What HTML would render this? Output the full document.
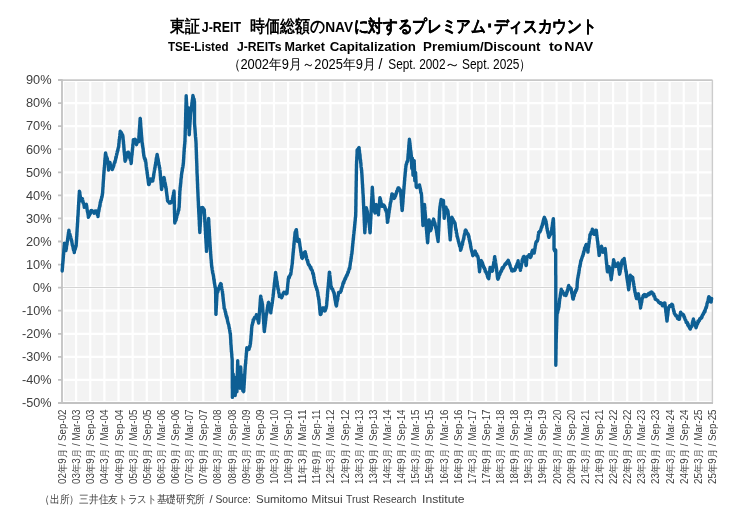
<!DOCTYPE html>
<html><head><meta charset="utf-8"><style>
html,body{margin:0;padding:0;background:#fff;}
body{width:748px;height:529px;overflow:hidden;position:relative;}
svg{position:absolute;left:0;top:0;will-change:transform;}
text{font-family:"Liberation Sans",sans-serif;}
</style></head><body>
<svg width="748" height="529" viewBox="0 0 748 529">

<rect x="62.0" y="80.0" width="650.0" height="323.0" fill="#f3f3f3"/>
<path d="M62.00 80.0V403.0M76.13 80.0V403.0M90.26 80.0V403.0M104.39 80.0V403.0M118.52 80.0V403.0M132.65 80.0V403.0M146.78 80.0V403.0M160.91 80.0V403.0M175.04 80.0V403.0M189.17 80.0V403.0M203.30 80.0V403.0M217.43 80.0V403.0M231.57 80.0V403.0M245.70 80.0V403.0M259.83 80.0V403.0M273.96 80.0V403.0M288.09 80.0V403.0M302.22 80.0V403.0M316.35 80.0V403.0M330.48 80.0V403.0M344.61 80.0V403.0M358.74 80.0V403.0M372.87 80.0V403.0M387.00 80.0V403.0M401.13 80.0V403.0M415.26 80.0V403.0M429.39 80.0V403.0M443.52 80.0V403.0M457.65 80.0V403.0M471.78 80.0V403.0M485.91 80.0V403.0M500.04 80.0V403.0M514.17 80.0V403.0M528.30 80.0V403.0M542.43 80.0V403.0M556.57 80.0V403.0M570.70 80.0V403.0M584.83 80.0V403.0M598.96 80.0V403.0M613.09 80.0V403.0M627.22 80.0V403.0M641.35 80.0V403.0M655.48 80.0V403.0M669.61 80.0V403.0M683.74 80.0V403.0M697.87 80.0V403.0M63.00 80.0V403.0M62.0 81.00H712.0M62.0 402.00H712.0" stroke="#ffffff" stroke-width="2.2" fill="none"/>
<path d="M62.0 80.00H712.0M62.0 103.07H712.0M62.0 126.14H712.0M62.0 149.21H712.0M62.0 172.29H712.0M62.0 195.36H712.0M62.0 218.43H712.0M62.0 241.50H712.0M62.0 264.57H712.0M62.0 287.64H712.0M62.0 310.71H712.0M62.0 333.79H712.0M62.0 356.86H712.0M62.0 379.93H712.0M62.0 403.00H712.0" stroke="#ffffff" stroke-width="2.2" fill="none"/>
<path d="M62.0 287.50H712.0" stroke="#d4d4d4" stroke-width="1.1" fill="none"/>
<path d="M62.0 80.1H712.5" stroke="#c8c8c8" stroke-width="1.7" fill="none"/>
<path d="M712.4 80.0V403.0" stroke="#cccccc" stroke-width="1.4" fill="none"/>
<path d="M62.0 79.2V403.0M58.0 403.0H713.0M58.0 80.00H62.0M58.0 103.07H62.0M58.0 126.14H62.0M58.0 149.21H62.0M58.0 172.29H62.0M58.0 195.36H62.0M58.0 218.43H62.0M58.0 241.50H62.0M58.0 264.57H62.0M58.0 287.64H62.0M58.0 310.71H62.0M58.0 333.79H62.0M58.0 356.86H62.0M58.0 379.93H62.0M58.0 403.00H62.0" stroke="#c2c2c2" stroke-width="1.8" fill="none"/>
<text x="51.6" y="84.3" font-size="12" fill="#404040" text-anchor="end" textLength="25.6" lengthAdjust="spacingAndGlyphs">90%</text>
<text x="51.6" y="107.4" font-size="12" fill="#404040" text-anchor="end" textLength="25.6" lengthAdjust="spacingAndGlyphs">80%</text>
<text x="51.6" y="130.4" font-size="12" fill="#404040" text-anchor="end" textLength="25.6" lengthAdjust="spacingAndGlyphs">70%</text>
<text x="51.6" y="153.5" font-size="12" fill="#404040" text-anchor="end" textLength="25.6" lengthAdjust="spacingAndGlyphs">60%</text>
<text x="51.6" y="176.6" font-size="12" fill="#404040" text-anchor="end" textLength="25.6" lengthAdjust="spacingAndGlyphs">50%</text>
<text x="51.6" y="199.7" font-size="12" fill="#404040" text-anchor="end" textLength="25.6" lengthAdjust="spacingAndGlyphs">40%</text>
<text x="51.6" y="222.7" font-size="12" fill="#404040" text-anchor="end" textLength="25.6" lengthAdjust="spacingAndGlyphs">30%</text>
<text x="51.6" y="245.8" font-size="12" fill="#404040" text-anchor="end" textLength="25.6" lengthAdjust="spacingAndGlyphs">20%</text>
<text x="51.6" y="268.9" font-size="12" fill="#404040" text-anchor="end" textLength="25.6" lengthAdjust="spacingAndGlyphs">10%</text>
<text x="51.6" y="291.9" font-size="12" fill="#404040" text-anchor="end" textLength="18.9" lengthAdjust="spacingAndGlyphs">0%</text>
<text x="51.6" y="315.0" font-size="12" fill="#404040" text-anchor="end" textLength="29.6" lengthAdjust="spacingAndGlyphs">-10%</text>
<text x="51.6" y="338.1" font-size="12" fill="#404040" text-anchor="end" textLength="29.6" lengthAdjust="spacingAndGlyphs">-20%</text>
<text x="51.6" y="361.2" font-size="12" fill="#404040" text-anchor="end" textLength="29.6" lengthAdjust="spacingAndGlyphs">-30%</text>
<text x="51.6" y="384.2" font-size="12" fill="#404040" text-anchor="end" textLength="29.6" lengthAdjust="spacingAndGlyphs">-40%</text>
<text x="51.6" y="407.3" font-size="12" fill="#404040" text-anchor="end" textLength="29.6" lengthAdjust="spacingAndGlyphs">-50%</text>
<text transform="translate(66.00,409.5) rotate(-90)" font-size="10.4" fill="#404040" text-anchor="end" textLength="74.5" lengthAdjust="spacingAndGlyphs">02年9月 / Sep-02</text>
<text transform="translate(80.13,409.5) rotate(-90)" font-size="10.4" fill="#404040" text-anchor="end" textLength="74.5" lengthAdjust="spacingAndGlyphs">03年3月 / Mar-03</text>
<text transform="translate(94.26,409.5) rotate(-90)" font-size="10.4" fill="#404040" text-anchor="end" textLength="74.5" lengthAdjust="spacingAndGlyphs">03年9月 / Sep-03</text>
<text transform="translate(108.39,409.5) rotate(-90)" font-size="10.4" fill="#404040" text-anchor="end" textLength="74.5" lengthAdjust="spacingAndGlyphs">04年3月 / Mar-04</text>
<text transform="translate(122.52,409.5) rotate(-90)" font-size="10.4" fill="#404040" text-anchor="end" textLength="74.5" lengthAdjust="spacingAndGlyphs">04年9月 / Sep-04</text>
<text transform="translate(136.65,409.5) rotate(-90)" font-size="10.4" fill="#404040" text-anchor="end" textLength="74.5" lengthAdjust="spacingAndGlyphs">05年3月 / Mar-05</text>
<text transform="translate(150.78,409.5) rotate(-90)" font-size="10.4" fill="#404040" text-anchor="end" textLength="74.5" lengthAdjust="spacingAndGlyphs">05年9月 / Sep-05</text>
<text transform="translate(164.91,409.5) rotate(-90)" font-size="10.4" fill="#404040" text-anchor="end" textLength="74.5" lengthAdjust="spacingAndGlyphs">06年3月 / Mar-06</text>
<text transform="translate(179.04,409.5) rotate(-90)" font-size="10.4" fill="#404040" text-anchor="end" textLength="74.5" lengthAdjust="spacingAndGlyphs">06年9月 / Sep-06</text>
<text transform="translate(193.17,409.5) rotate(-90)" font-size="10.4" fill="#404040" text-anchor="end" textLength="74.5" lengthAdjust="spacingAndGlyphs">07年3月 / Mar-07</text>
<text transform="translate(207.30,409.5) rotate(-90)" font-size="10.4" fill="#404040" text-anchor="end" textLength="74.5" lengthAdjust="spacingAndGlyphs">07年9月 / Sep-07</text>
<text transform="translate(221.43,409.5) rotate(-90)" font-size="10.4" fill="#404040" text-anchor="end" textLength="74.5" lengthAdjust="spacingAndGlyphs">08年3月 / Mar-08</text>
<text transform="translate(235.57,409.5) rotate(-90)" font-size="10.4" fill="#404040" text-anchor="end" textLength="74.5" lengthAdjust="spacingAndGlyphs">08年9月 / Sep-08</text>
<text transform="translate(249.70,409.5) rotate(-90)" font-size="10.4" fill="#404040" text-anchor="end" textLength="74.5" lengthAdjust="spacingAndGlyphs">09年3月 / Mar-09</text>
<text transform="translate(263.83,409.5) rotate(-90)" font-size="10.4" fill="#404040" text-anchor="end" textLength="74.5" lengthAdjust="spacingAndGlyphs">09年9月 / Sep-09</text>
<text transform="translate(277.96,409.5) rotate(-90)" font-size="10.4" fill="#404040" text-anchor="end" textLength="74.5" lengthAdjust="spacingAndGlyphs">10年3月 / Mar-10</text>
<text transform="translate(292.09,409.5) rotate(-90)" font-size="10.4" fill="#404040" text-anchor="end" textLength="74.5" lengthAdjust="spacingAndGlyphs">10年9月 / Sep-10</text>
<text transform="translate(306.22,409.5) rotate(-90)" font-size="10.4" fill="#404040" text-anchor="end" textLength="74.5" lengthAdjust="spacingAndGlyphs">11年3月 / Mar-11</text>
<text transform="translate(320.35,409.5) rotate(-90)" font-size="10.4" fill="#404040" text-anchor="end" textLength="74.5" lengthAdjust="spacingAndGlyphs">11年9月 / Sep-11</text>
<text transform="translate(334.48,409.5) rotate(-90)" font-size="10.4" fill="#404040" text-anchor="end" textLength="74.5" lengthAdjust="spacingAndGlyphs">12年3月 / Mar-12</text>
<text transform="translate(348.61,409.5) rotate(-90)" font-size="10.4" fill="#404040" text-anchor="end" textLength="74.5" lengthAdjust="spacingAndGlyphs">12年9月 / Sep-12</text>
<text transform="translate(362.74,409.5) rotate(-90)" font-size="10.4" fill="#404040" text-anchor="end" textLength="74.5" lengthAdjust="spacingAndGlyphs">13年3月 / Mar-13</text>
<text transform="translate(376.87,409.5) rotate(-90)" font-size="10.4" fill="#404040" text-anchor="end" textLength="74.5" lengthAdjust="spacingAndGlyphs">13年9月 / Sep-13</text>
<text transform="translate(391.00,409.5) rotate(-90)" font-size="10.4" fill="#404040" text-anchor="end" textLength="74.5" lengthAdjust="spacingAndGlyphs">14年3月 / Mar-14</text>
<text transform="translate(405.13,409.5) rotate(-90)" font-size="10.4" fill="#404040" text-anchor="end" textLength="74.5" lengthAdjust="spacingAndGlyphs">14年9月 / Sep-14</text>
<text transform="translate(419.26,409.5) rotate(-90)" font-size="10.4" fill="#404040" text-anchor="end" textLength="74.5" lengthAdjust="spacingAndGlyphs">15年3月 / Mar-15</text>
<text transform="translate(433.39,409.5) rotate(-90)" font-size="10.4" fill="#404040" text-anchor="end" textLength="74.5" lengthAdjust="spacingAndGlyphs">15年9月 / Sep-15</text>
<text transform="translate(447.52,409.5) rotate(-90)" font-size="10.4" fill="#404040" text-anchor="end" textLength="74.5" lengthAdjust="spacingAndGlyphs">16年3月 / Mar-16</text>
<text transform="translate(461.65,409.5) rotate(-90)" font-size="10.4" fill="#404040" text-anchor="end" textLength="74.5" lengthAdjust="spacingAndGlyphs">16年9月 / Sep-16</text>
<text transform="translate(475.78,409.5) rotate(-90)" font-size="10.4" fill="#404040" text-anchor="end" textLength="74.5" lengthAdjust="spacingAndGlyphs">17年3月 / Mar-17</text>
<text transform="translate(489.91,409.5) rotate(-90)" font-size="10.4" fill="#404040" text-anchor="end" textLength="74.5" lengthAdjust="spacingAndGlyphs">17年9月 / Sep-17</text>
<text transform="translate(504.04,409.5) rotate(-90)" font-size="10.4" fill="#404040" text-anchor="end" textLength="74.5" lengthAdjust="spacingAndGlyphs">18年3月 / Mar-18</text>
<text transform="translate(518.17,409.5) rotate(-90)" font-size="10.4" fill="#404040" text-anchor="end" textLength="74.5" lengthAdjust="spacingAndGlyphs">18年9月 / Sep-18</text>
<text transform="translate(532.30,409.5) rotate(-90)" font-size="10.4" fill="#404040" text-anchor="end" textLength="74.5" lengthAdjust="spacingAndGlyphs">19年3月 / Mar-19</text>
<text transform="translate(546.43,409.5) rotate(-90)" font-size="10.4" fill="#404040" text-anchor="end" textLength="74.5" lengthAdjust="spacingAndGlyphs">19年9月 / Sep-19</text>
<text transform="translate(560.57,409.5) rotate(-90)" font-size="10.4" fill="#404040" text-anchor="end" textLength="74.5" lengthAdjust="spacingAndGlyphs">20年3月 / Mar-20</text>
<text transform="translate(574.70,409.5) rotate(-90)" font-size="10.4" fill="#404040" text-anchor="end" textLength="74.5" lengthAdjust="spacingAndGlyphs">20年9月 / Sep-20</text>
<text transform="translate(588.83,409.5) rotate(-90)" font-size="10.4" fill="#404040" text-anchor="end" textLength="74.5" lengthAdjust="spacingAndGlyphs">21年3月 / Mar-21</text>
<text transform="translate(602.96,409.5) rotate(-90)" font-size="10.4" fill="#404040" text-anchor="end" textLength="74.5" lengthAdjust="spacingAndGlyphs">21年9月 / Sep-21</text>
<text transform="translate(617.09,409.5) rotate(-90)" font-size="10.4" fill="#404040" text-anchor="end" textLength="74.5" lengthAdjust="spacingAndGlyphs">22年3月 / Mar-22</text>
<text transform="translate(631.22,409.5) rotate(-90)" font-size="10.4" fill="#404040" text-anchor="end" textLength="74.5" lengthAdjust="spacingAndGlyphs">22年9月 / Sep-22</text>
<text transform="translate(645.35,409.5) rotate(-90)" font-size="10.4" fill="#404040" text-anchor="end" textLength="74.5" lengthAdjust="spacingAndGlyphs">23年3月 / Mar-23</text>
<text transform="translate(659.48,409.5) rotate(-90)" font-size="10.4" fill="#404040" text-anchor="end" textLength="74.5" lengthAdjust="spacingAndGlyphs">23年9月 / Sep-23</text>
<text transform="translate(673.61,409.5) rotate(-90)" font-size="10.4" fill="#404040" text-anchor="end" textLength="74.5" lengthAdjust="spacingAndGlyphs">24年3月 / Mar-24</text>
<text transform="translate(687.74,409.5) rotate(-90)" font-size="10.4" fill="#404040" text-anchor="end" textLength="74.5" lengthAdjust="spacingAndGlyphs">24年9月 / Sep-24</text>
<text transform="translate(701.87,409.5) rotate(-90)" font-size="10.4" fill="#404040" text-anchor="end" textLength="74.5" lengthAdjust="spacingAndGlyphs">25年3月 / Mar-25</text>
<text transform="translate(716.00,409.5) rotate(-90)" font-size="10.4" fill="#404040" text-anchor="end" textLength="74.5" lengthAdjust="spacingAndGlyphs">25年9月 / Sep-25</text>
<path d="M62.2,271.1 62.2,270.1 62.3,269.2 62.3,269.6 62.4,267.8 62.4,268.1 62.5,267.2 62.5,266.0 62.6,266.3 62.6,264.7 62.7,264.9 62.7,263.6 62.8,263.0 62.8,263.1 62.9,263.3 62.9,261.2 63.0,260.8 63.0,261.0 63.1,261.1 63.1,259.7 63.2,258.8 63.2,259.3 63.3,256.8 63.3,257.9 63.4,256.1 63.4,255.2 63.5,254.6 63.5,254.3 63.6,254.7 63.6,252.9 63.7,253.1 63.7,252.6 63.8,251.4 63.8,251.2 63.9,249.6 63.9,249.0 64.0,248.7 64.0,249.0 64.1,247.9 64.1,247.1 64.2,247.0 64.2,246.1 64.3,245.2 64.3,245.6 64.4,244.8 64.4,243.3 64.5,244.6 64.7,245.1 64.8,246.4 64.9,246.7 65.1,246.5 65.2,248.5 65.4,247.4 65.5,248.6 65.6,249.9 65.8,249.3 65.9,250.6 66.0,249.1 66.1,249.7 66.2,249.3 66.3,248.4 66.4,248.4 66.4,246.7 66.5,246.8 66.6,246.0 66.7,245.4 66.8,244.6 66.9,244.7 67.0,244.4 67.1,242.8 67.2,242.6 67.3,240.8 67.4,241.5 67.4,240.8 67.5,240.9 67.6,240.0 67.7,238.3 67.8,237.9 67.9,237.9 68.0,236.0 68.1,236.3 68.2,235.1 68.3,234.4 68.4,233.7 68.4,234.5 68.5,232.6 68.6,232.3 68.7,232.0 68.8,232.3 68.9,230.2 69.1,231.5 69.2,232.3 69.4,233.6 69.5,234.0 69.7,234.7 69.9,234.2 70.0,235.0 70.2,235.5 70.3,237.2 70.5,237.9 70.7,236.9 70.8,237.6 71.0,238.3 71.1,238.9 71.3,240.0 71.5,240.8 71.6,240.7 71.8,240.8 71.9,242.3 72.0,242.8 72.2,243.8 72.3,245.2 72.5,245.3 72.6,245.5 72.8,246.3 73.0,247.1 73.1,246.4 73.2,248.7 73.4,249.1 73.5,249.9 73.7,250.4 73.8,250.2 74.0,250.8 74.1,250.8 74.3,252.5 74.5,250.7 74.7,250.2 74.9,249.9 75.1,249.2 75.3,248.9 75.5,247.8 75.7,247.1 75.9,246.8 76.1,246.1 76.1,246.0 76.2,244.7 76.2,245.8 76.2,244.7 76.3,243.2 76.3,242.8 76.4,242.3 76.4,241.8 76.4,240.7 76.5,241.5 76.5,241.2 76.5,239.5 76.6,239.0 76.6,237.6 76.6,237.0 76.7,236.9 76.7,236.1 76.8,236.6 76.8,234.7 76.8,233.8 76.9,235.0 76.9,233.6 76.9,232.2 77.0,232.4 77.0,230.7 77.0,231.1 77.1,231.4 77.1,230.6 77.1,229.7 77.2,228.2 77.2,227.8 77.3,226.8 77.3,227.4 77.3,226.3 77.4,226.2 77.4,224.7 77.4,223.8 77.5,224.4 77.5,224.2 77.5,223.3 77.6,222.6 77.6,222.0 77.7,221.3 77.7,219.7 77.7,219.6 77.8,218.7 77.8,217.5 77.8,216.9 77.9,216.8 77.9,216.1 77.9,216.4 78.0,216.3 78.0,214.7 78.0,215.1 78.1,214.6 78.1,213.9 78.2,212.1 78.2,211.2 78.2,210.7 78.3,210.0 78.3,209.4 78.3,209.6 78.4,209.6 78.4,208.9 78.4,207.6 78.5,207.3 78.5,207.0 78.5,205.0 78.6,205.5 78.6,205.4 78.7,204.6 78.7,203.9 78.7,202.8 78.8,201.6 78.8,202.2 78.8,200.7 78.9,201.0 78.9,200.7 78.9,199.0 79.0,198.4 79.0,198.9 79.0,197.8 79.1,196.1 79.1,195.5 79.2,194.9 79.2,195.8 79.2,195.0 79.3,193.1 79.3,193.9 79.3,193.6 79.4,192.3 79.4,191.1 79.5,192.1 79.6,191.9 79.8,192.3 79.9,194.8 80.0,194.8 80.1,195.1 80.2,196.6 80.3,196.2 80.5,197.7 80.6,198.2 80.7,197.6 80.8,198.3 80.9,198.9 81.1,199.5 81.2,200.8 81.3,200.7 81.6,200.5 81.8,199.4 82.1,200.4 82.4,198.7 82.5,199.5 82.7,200.4 82.8,201.6 83.0,201.2 83.1,202.8 83.3,202.6 83.4,203.2 83.5,203.8 83.7,203.4 83.8,204.8 84.0,204.9 84.1,205.1 84.3,207.3 84.4,206.6 84.8,206.6 85.2,206.6 85.5,205.6 85.9,204.6 86.3,204.3 86.4,205.0 86.5,206.1 86.6,205.3 86.7,206.8 86.8,206.8 86.9,207.5 87.0,209.1 87.1,209.2 87.2,209.9 87.3,210.9 87.5,211.8 87.6,211.4 87.7,212.4 87.8,212.8 87.9,213.4 88.0,214.4 88.1,214.5 88.2,215.3 88.3,215.8 88.4,217.3 88.7,216.3 89.0,216.1 89.2,215.7 89.5,213.8 89.8,213.8 90.1,214.0 90.4,213.3 90.6,211.4 90.9,210.8 91.2,210.9 91.8,210.5 92.4,211.1 93.0,211.1 93.6,212.6 94.2,213.2 94.8,213.0 95.3,211.1 95.9,211.8 96.5,211.3 96.7,210.9 96.9,212.9 97.1,213.7 97.2,212.7 97.4,214.8 97.6,214.2 97.8,215.0 98.0,216.6 98.1,215.7 98.2,213.7 98.3,213.6 98.4,213.2 98.5,212.3 98.7,211.4 98.8,211.0 98.9,211.2 99.0,209.2 99.1,209.7 99.2,208.8 99.3,207.4 99.4,207.4 99.5,207.4 99.7,206.5 99.8,205.0 99.9,206.3 100.0,205.3 100.1,205.0 100.2,202.7 100.4,202.4 100.5,201.4 100.7,202.2 100.8,200.6 101.0,199.7 101.1,199.7 101.3,200.1 101.4,199.3 101.6,197.6 101.7,196.7 101.9,197.7 102.0,196.4 102.2,196.0 102.3,194.2 102.5,193.5 102.5,194.2 102.6,193.0 102.6,191.7 102.7,192.8 102.7,191.6 102.7,191.3 102.8,189.3 102.8,190.2 102.9,188.0 102.9,189.0 102.9,187.6 103.0,186.7 103.0,186.6 103.1,186.7 103.1,184.8 103.1,183.9 103.2,184.1 103.2,182.9 103.3,182.0 103.3,181.5 103.4,180.7 103.4,180.4 103.4,180.0 103.5,179.4 103.5,179.6 103.6,178.1 103.6,177.9 103.6,176.7 103.7,176.4 103.7,175.1 103.8,175.0 103.8,173.9 103.8,174.7 103.9,173.7 103.9,172.4 104.0,172.4 104.0,172.7 104.0,170.4 104.1,171.2 104.2,169.8 104.2,169.4 104.2,169.4 104.3,167.9 104.3,167.6 104.4,167.3 104.5,167.3 104.5,165.4 104.5,165.8 104.6,164.9 104.7,164.2 104.7,163.1 104.8,162.4 104.8,161.2 104.8,160.7 104.9,160.0 105.0,160.8 105.0,159.2 105.0,158.4 105.1,157.6 105.2,158.5 105.2,158.0 105.2,157.0 105.3,155.6 105.3,154.9 105.4,154.4 105.5,154.1 105.5,152.9 105.7,154.1 105.9,154.3 106.0,156.3 106.2,156.9 106.4,156.6 106.6,156.6 106.7,158.6 106.9,157.9 107.1,158.6 107.3,158.4 107.4,159.8 107.6,160.6 107.8,161.2 107.9,161.2 107.9,162.5 108.0,162.1 108.0,163.3 108.1,163.6 108.2,164.8 108.2,164.8 108.3,165.4 108.4,166.6 108.4,167.1 108.5,168.4 108.5,168.9 108.6,170.0 108.7,169.2 108.9,168.7 109.0,168.4 109.2,166.8 109.3,166.1 109.4,166.8 109.6,164.5 109.7,165.1 109.9,164.3 110.0,162.5 110.3,164.7 110.5,165.4 110.8,165.5 111.0,166.3 111.3,167.0 111.5,166.3 111.8,167.6 112.0,168.2 112.3,169.5 112.5,168.8 112.8,168.3 113.0,167.2 113.3,167.2 113.5,166.2 113.8,165.7 114.0,164.1 114.3,163.2 114.5,162.8 114.7,162.6 114.8,161.5 115.0,162.4 115.1,161.2 115.3,160.7 115.4,160.1 115.6,159.6 115.7,158.6 115.9,157.0 116.0,158.0 116.2,157.3 116.3,156.2 116.5,155.7 116.6,155.3 116.8,153.5 116.9,154.3 117.1,152.7 117.2,151.7 117.3,151.5 117.5,151.9 117.6,150.2 117.8,150.7 117.9,150.6 118.0,149.0 118.2,148.2 118.3,147.8 118.4,147.6 118.6,147.1 118.7,146.2 118.8,145.7 118.8,144.0 118.9,143.5 119.0,143.1 119.0,143.5 119.1,142.0 119.1,141.9 119.2,140.2 119.3,139.7 119.3,139.5 119.4,139.7 119.5,139.2 119.5,138.6 119.6,137.2 119.7,137.0 119.7,136.3 119.8,135.7 119.9,134.4 119.9,135.4 120.0,133.4 120.0,134.4 120.1,133.7 120.2,131.2 120.2,131.5 120.3,131.6 120.6,132.5 120.9,132.1 121.2,132.3 121.5,132.8 121.7,134.8 122.0,134.0 122.3,135.3 122.6,135.0 122.9,136.3 123.0,137.8 123.0,136.8 123.1,138.8 123.1,138.7 123.2,140.1 123.2,140.4 123.3,140.0 123.3,142.0 123.4,141.7 123.4,141.4 123.5,142.0 123.5,143.6 123.6,144.1 123.7,144.4 123.7,144.7 123.8,145.7 123.8,146.3 123.9,147.9 123.9,146.8 124.0,148.9 124.0,149.7 124.1,148.9 124.1,151.1 124.2,151.3 124.2,152.3 124.3,151.7 124.3,152.4 124.4,153.1 124.5,154.9 124.5,154.7 124.6,154.8 124.6,155.6 124.7,155.9 124.7,156.0 124.8,156.8 124.8,158.8 124.9,158.3 124.9,160.2 125.0,159.5 125.0,160.1 125.1,161.2 125.3,160.0 125.4,159.7 125.6,160.3 125.7,159.6 125.9,158.8 126.0,157.9 126.2,157.8 126.3,157.3 126.5,155.9 126.6,155.6 126.8,153.7 126.9,154.5 127.1,153.3 127.2,153.3 127.4,152.5 127.9,152.3 128.4,152.3 128.9,154.6 129.1,153.6 129.2,154.8 129.4,155.2 129.5,155.7 129.7,157.2 129.8,158.3 130.0,157.4 130.1,158.8 130.3,158.7 130.4,159.8 130.6,160.1 130.7,160.2 130.9,160.8 131.0,161.5 131.2,163.5 131.3,162.1 131.3,160.9 131.4,161.7 131.4,161.3 131.5,159.6 131.5,158.4 131.6,157.9 131.7,157.1 131.7,157.0 131.8,155.9 131.8,155.6 131.9,155.0 132.0,155.1 132.0,155.1 132.1,154.2 132.1,153.0 132.2,152.4 132.2,152.0 132.3,151.1 132.4,150.4 132.4,149.3 132.5,149.1 132.5,149.9 132.6,147.6 132.6,147.8 132.7,147.4 132.8,147.3 132.8,145.4 132.9,144.9 132.9,144.3 133.0,144.0 133.1,143.5 133.1,143.9 133.2,143.1 133.2,142.5 133.3,140.2 133.3,139.7 133.4,140.4 134.2,140.4 135.0,139.2 135.2,140.1 135.4,139.6 135.6,141.0 135.9,142.7 136.1,143.2 136.3,143.9 136.5,144.7 136.9,142.8 137.2,142.0 137.6,141.6 138.0,141.8 138.3,141.7 138.7,141.7 138.7,140.6 138.8,139.9 138.8,139.5 138.9,138.3 138.9,137.8 138.9,136.2 139.0,137.1 139.0,135.4 139.1,136.1 139.1,135.0 139.1,133.7 139.2,132.7 139.2,132.3 139.3,132.5 139.3,132.0 139.3,130.2 139.4,129.5 139.4,129.8 139.5,129.3 139.5,128.3 139.6,127.4 139.6,127.5 139.6,125.7 139.7,125.7 139.7,125.4 139.8,125.8 139.8,124.5 139.8,124.4 139.9,123.0 139.9,121.9 140.0,121.3 140.0,122.1 140.0,121.0 140.1,119.6 140.1,118.4 140.2,118.7 140.2,118.4 140.2,118.5 140.3,118.8 140.3,120.3 140.4,121.4 140.4,120.6 140.5,120.8 140.5,122.0 140.6,122.8 140.6,123.9 140.7,123.6 140.7,125.4 140.7,125.8 140.8,126.0 140.8,126.0 140.9,128.1 140.9,127.4 141.0,129.0 141.0,128.5 141.1,129.1 141.1,130.7 141.2,130.4 141.2,132.3 141.3,132.0 141.3,132.0 141.3,132.7 141.4,133.7 141.4,134.8 141.5,136.0 141.5,135.0 141.6,136.1 141.6,136.3 141.7,138.4 141.7,137.4 141.8,137.8 141.8,138.4 141.9,139.7 142.0,141.3 142.0,141.9 142.1,142.2 142.2,143.3 142.3,143.8 142.3,143.2 142.4,143.5 142.5,145.6 142.6,145.8 142.6,145.0 142.7,146.8 142.8,146.9 142.9,147.4 142.9,148.0 143.0,148.2 143.1,148.5 143.2,149.7 143.2,150.4 143.3,152.2 143.4,151.1 143.5,153.4 143.5,152.5 143.6,153.4 143.7,154.9 143.8,155.5 143.8,155.4 143.9,155.2 144.0,156.6 144.2,157.1 144.5,158.8 144.8,158.0 145.0,159.0 145.2,160.7 145.5,159.6 145.6,160.9 145.7,162.3 145.7,162.8 145.8,162.0 145.9,162.6 146.0,163.2 146.1,165.5 146.1,164.8 146.2,166.4 146.3,167.3 146.4,166.8 146.5,167.2 146.5,169.2 146.6,169.1 146.7,169.0 146.8,170.5 146.9,170.3 146.9,170.8 147.0,170.9 147.1,173.0 147.2,173.9 147.3,173.9 147.4,175.1 147.4,173.9 147.5,174.9 147.6,176.0 147.7,177.5 147.8,178.1 147.8,177.6 147.9,177.9 148.0,178.9 148.1,179.6 148.2,181.1 148.2,180.2 148.3,182.0 148.4,182.5 148.5,183.3 148.6,183.8 148.6,184.0 148.7,184.1 148.8,184.6 149.0,184.2 149.2,184.4 149.4,182.4 149.6,182.1 149.8,182.6 150.0,181.1 150.2,180.1 150.4,179.5 150.6,180.0 150.8,178.9 151.0,179.7 151.3,180.1 151.6,180.9 152.0,180.0 152.3,180.3 152.6,180.9 152.7,181.1 152.8,180.9 152.9,179.8 153.0,178.8 153.1,178.5 153.2,178.3 153.3,177.8 153.4,177.4 153.5,177.0 153.6,176.0 153.7,174.3 153.8,175.1 153.9,173.4 154.0,173.4 154.1,172.4 154.2,172.5 154.3,170.8 154.4,170.3 154.5,169.7 154.6,168.9 154.7,169.8 154.8,168.6 154.9,167.5 155.0,167.0 155.1,167.6 155.2,166.0 155.3,164.8 155.4,165.4 155.5,164.5 155.6,164.5 155.7,162.2 155.8,162.3 155.9,162.4 156.0,161.8 156.1,161.4 156.2,159.0 156.3,158.9 156.4,158.0 156.5,157.5 156.6,158.5 156.7,157.1 156.8,157.2 156.9,155.5 157.0,155.8 157.1,154.4 157.2,154.6 157.3,156.2 157.4,157.2 157.5,156.1 157.6,157.7 157.7,158.3 157.9,158.1 158.0,159.0 158.1,159.1 158.2,159.9 158.3,160.6 158.4,161.9 158.5,162.6 158.6,162.3 158.7,162.5 158.8,163.7 158.9,165.0 159.0,164.6 159.1,165.5 159.3,165.8 159.4,167.6 159.5,167.7 159.6,167.3 159.7,168.0 159.8,169.2 159.9,170.1 160.0,170.9 160.0,170.4 160.1,171.1 160.1,172.8 160.2,172.8 160.2,173.2 160.3,173.8 160.3,175.7 160.4,175.1 160.4,176.2 160.5,176.3 160.5,177.1 160.6,178.6 160.6,179.4 160.7,178.8 160.8,179.0 160.8,180.7 160.9,180.3 160.9,180.5 161.0,182.9 161.0,182.5 161.1,183.9 161.1,183.7 161.2,185.2 161.2,185.0 161.3,185.0 161.3,185.3 161.4,187.0 161.4,187.8 161.5,188.9 161.5,187.9 161.6,189.5 161.7,188.4 161.8,188.1 161.9,186.8 162.1,186.4 162.2,186.3 162.3,186.5 162.4,184.3 162.5,184.4 162.6,184.5 162.8,184.2 162.9,182.0 163.0,181.3 163.1,182.3 163.2,181.8 163.3,180.2 163.4,178.7 163.6,179.9 163.7,178.2 163.8,178.6 163.9,177.4 164.0,178.5 164.1,177.7 164.2,179.6 164.4,179.1 164.5,180.0 164.6,181.5 164.7,182.1 164.8,181.4 164.9,182.1 165.1,183.0 165.2,183.9 165.3,184.2 165.4,184.3 165.5,185.2 165.6,186.7 165.7,187.7 165.9,186.6 166.0,188.2 166.1,189.2 166.2,188.4 166.3,190.6 166.3,189.7 166.4,191.3 166.5,191.8 166.6,192.6 166.6,192.5 166.7,193.4 166.8,194.3 166.9,194.6 166.9,195.7 167.0,195.8 167.1,196.4 167.2,196.2 167.2,198.0 167.3,198.4 167.4,198.5 167.5,200.1 167.5,200.7 167.6,200.7 167.7,200.8 168.2,201.8 168.6,201.5 169.1,202.0 169.5,203.1 170.0,202.9 170.4,203.1 170.9,202.8 171.3,201.4 171.8,202.1 172.2,200.6 172.3,201.3 172.4,200.7 172.5,199.6 172.6,198.1 172.7,198.3 172.8,197.5 172.9,198.0 173.0,195.8 173.2,196.6 173.3,196.3 173.4,195.1 173.5,194.7 173.6,192.8 173.7,193.8 173.8,192.2 173.9,192.5 174.0,191.8 174.0,190.9 174.0,192.8 174.0,193.7 174.1,192.5 174.1,193.7 174.1,195.1 174.1,194.5 174.1,196.6 174.1,195.9 174.1,197.6 174.2,196.9 174.2,198.2 174.2,199.6 174.2,198.8 174.2,199.5 174.2,200.6 174.3,200.8 174.3,200.9 174.3,201.8 174.3,202.3 174.3,204.5 174.3,204.6 174.3,205.6 174.4,204.7 174.4,206.6 174.4,205.8 174.4,207.3 174.4,208.1 174.4,208.1 174.4,209.7 174.5,209.7 174.5,210.4 174.5,211.6 174.5,210.6 174.5,213.0 174.5,212.9 174.5,213.0 174.6,214.4 174.6,213.9 174.6,216.0 174.6,215.8 174.6,215.9 174.6,217.3 174.7,217.3 174.7,217.4 174.7,219.1 174.7,218.3 174.7,220.4 174.7,219.9 174.7,221.3 174.8,222.6 174.8,222.4 174.8,223.1 174.8,223.0 175.0,221.8 175.2,221.3 175.4,220.9 175.5,221.2 175.7,220.2 175.9,219.8 176.1,219.9 176.3,217.8 176.5,217.4 176.7,217.6 176.8,215.8 177.0,215.1 177.2,215.2 177.4,214.1 177.6,214.0 177.7,213.1 177.9,213.2 178.0,212.6 178.2,211.2 178.3,211.4 178.5,210.5 178.6,209.2 178.8,210.2 178.9,208.2 179.1,207.4 179.1,206.7 179.2,207.2 179.2,207.0 179.2,206.2 179.2,204.9 179.3,204.0 179.3,202.8 179.3,203.5 179.4,202.7 179.4,201.7 179.4,201.7 179.4,200.7 179.5,201.0 179.5,200.0 179.5,198.4 179.6,199.1 179.6,196.8 179.6,197.2 179.6,196.3 179.7,195.4 179.7,194.4 179.7,195.2 179.8,193.1 179.8,193.5 179.8,193.7 179.8,191.5 179.9,191.0 179.9,191.2 180.0,190.4 180.0,190.1 180.1,189.8 180.1,187.9 180.2,187.6 180.3,187.0 180.3,185.8 180.4,186.9 180.4,186.1 180.5,185.4 180.6,183.3 180.6,184.4 180.7,183.6 180.8,182.4 180.8,182.4 180.9,181.2 180.9,180.1 181.0,179.3 181.1,178.9 181.1,177.9 181.2,177.9 181.2,178.1 181.3,177.4 181.4,177.1 181.4,176.2 181.5,174.7 181.5,174.7 181.6,173.9 181.7,174.0 181.8,172.8 181.9,171.7 182.0,171.9 182.1,171.9 182.2,169.8 182.3,170.6 182.4,168.2 182.5,168.1 182.6,167.5 182.7,167.9 182.8,167.7 182.9,166.7 183.0,165.3 183.1,165.8 183.2,164.1 183.3,163.3 183.3,164.0 183.4,162.8 183.4,162.3 183.5,161.7 183.5,161.7 183.5,160.0 183.6,160.2 183.6,159.2 183.7,159.0 183.7,157.5 183.8,157.4 183.8,156.5 183.8,155.4 183.9,154.6 183.9,154.8 184.0,153.1 184.0,154.1 184.0,152.0 184.1,151.1 184.1,150.6 184.2,151.7 184.2,149.9 184.2,148.9 184.3,148.1 184.3,147.5 184.4,148.2 184.4,147.5 184.5,147.0 184.5,146.5 184.6,144.5 184.6,145.0 184.7,143.9 184.7,144.2 184.8,143.6 184.8,143.2 184.9,140.9 184.9,141.9 185.0,141.4 185.0,140.9 185.0,138.6 185.0,138.2 185.1,137.4 185.1,136.6 185.1,137.6 185.1,136.9 185.1,136.0 185.1,135.7 185.2,134.7 185.2,133.4 185.2,132.4 185.2,131.8 185.2,132.5 185.2,130.8 185.3,130.4 185.3,130.0 185.3,128.6 185.3,128.5 185.3,127.9 185.4,128.1 185.4,126.8 185.4,126.1 185.4,126.8 185.4,125.3 185.4,125.3 185.5,124.3 185.5,122.5 185.5,122.6 185.5,122.1 185.5,122.1 185.5,120.7 185.6,120.8 185.6,119.9 185.6,118.6 185.6,119.3 185.6,117.2 185.6,118.0 185.7,116.1 185.7,115.2 185.7,115.0 185.7,115.5 185.7,115.3 185.7,112.8 185.8,113.1 185.8,112.5 185.8,112.6 185.8,110.7 185.8,110.7 185.8,109.8 185.8,110.2 185.9,108.5 185.9,109.2 185.9,107.3 185.9,106.6 185.9,106.9 185.9,105.9 186.0,104.6 186.0,105.0 186.0,103.3 186.0,104.1 186.0,103.3 186.0,102.9 186.1,102.0 186.1,100.8 186.1,100.3 186.1,99.7 186.1,100.1 186.1,97.9 186.2,98.9 186.2,96.6 186.2,96.3 186.2,95.8 186.2,97.7 186.3,97.5 186.3,97.9 186.3,99.5 186.4,98.8 186.4,99.9 186.4,100.6 186.5,101.7 186.5,102.3 186.5,102.7 186.6,102.7 186.6,103.2 186.6,103.5 186.7,105.5 186.7,105.7 186.7,106.5 186.8,106.0 186.8,107.1 186.8,108.4 186.9,108.6 186.9,108.3 186.9,109.6 187.0,111.0 187.0,110.4 187.0,110.9 187.1,111.7 187.1,113.1 187.1,114.0 187.2,113.2 187.2,113.8 187.2,114.6 187.3,115.4 187.3,116.4 187.3,116.3 187.4,117.2 187.4,117.6 187.4,119.7 187.5,119.8 187.5,119.2 187.4,121.5 187.3,120.4 187.3,121.6 187.2,123.4 187.1,123.7 187.0,124.2 187.0,124.2 186.9,124.3 186.8,125.8 186.7,125.4 186.7,126.2 186.6,127.2 186.5,127.1 186.6,127.2 186.6,127.4 186.7,126.6 186.7,125.6 186.8,125.2 186.9,124.3 186.9,123.0 187.0,123.4 187.0,122.4 187.1,122.4 187.2,122.1 187.2,120.6 187.3,120.3 187.3,120.0 187.4,118.8 187.5,117.8 187.5,118.1 187.6,117.9 187.7,117.0 187.7,116.3 187.8,116.0 187.8,115.0 187.9,114.3 188.0,113.4 188.0,112.5 188.1,112.5 188.1,110.8 188.2,110.9 188.3,111.0 188.3,110.2 188.4,109.5 188.4,108.1 188.5,107.8 188.5,108.5 188.5,109.5 188.5,109.7 188.6,110.8 188.6,111.9 188.6,111.0 188.6,112.6 188.6,113.4 188.6,113.3 188.7,114.1 188.7,115.7 188.7,114.4 188.7,116.0 188.7,115.9 188.7,117.7 188.8,118.7 188.8,118.4 188.8,118.2 188.8,119.8 188.8,120.3 188.8,121.3 188.8,121.5 188.9,122.3 188.9,123.3 188.9,123.3 188.9,123.7 188.9,125.4 188.9,124.5 189.0,126.1 189.0,126.1 189.0,127.5 189.0,126.8 189.0,129.1 189.0,128.5 189.1,128.5 189.1,129.6 189.1,130.4 189.1,130.3 189.1,131.7 189.1,132.3 189.2,133.5 189.2,133.4 189.2,133.8 189.2,134.3 189.2,134.8 189.3,134.6 189.3,133.1 189.4,131.9 189.4,132.5 189.4,131.1 189.5,130.1 189.5,129.3 189.6,130.0 189.6,129.5 189.6,128.5 189.7,127.6 189.7,127.2 189.8,125.9 189.8,126.8 189.8,125.0 189.9,124.9 189.9,124.7 189.9,124.1 190.0,122.8 190.0,121.8 190.1,121.7 190.1,120.3 190.1,121.1 190.2,119.5 190.2,119.9 190.3,118.2 190.3,117.8 190.3,116.9 190.4,116.7 190.4,115.6 190.5,114.6 190.5,115.4 190.6,114.0 190.7,113.3 190.7,112.8 190.8,112.5 190.9,111.8 191.0,111.6 191.0,111.1 191.1,109.9 191.2,110.4 191.3,109.6 191.4,107.4 191.4,108.4 191.5,107.9 191.6,107.1 191.7,105.2 191.8,106.0 191.8,105.0 191.9,103.1 192.0,102.5 192.1,103.8 192.1,102.6 192.2,101.2 192.3,100.3 192.4,99.7 192.5,99.3 192.5,99.8 192.6,98.3 192.7,97.3 192.8,98.2 192.8,97.4 192.9,95.5 193.0,96.4 193.2,96.4 193.3,97.4 193.4,97.7 193.6,98.8 193.8,99.2 193.9,99.9 194.1,99.2 194.2,100.8 194.3,101.1 194.5,102.1 194.5,102.1 194.5,103.6 194.5,103.5 194.5,103.6 194.5,104.1 194.5,104.5 194.5,105.8 194.5,105.6 194.5,107.0 194.5,106.9 194.5,108.2 194.5,108.9 194.5,109.6 194.5,110.8 194.5,109.7 194.5,112.0 194.5,111.8 194.5,112.6 194.5,113.4 194.5,114.4 194.5,114.1 194.5,114.8 194.5,116.5 194.5,115.3 194.5,117.0 194.5,117.6 194.5,117.0 194.5,118.8 194.5,119.5 194.5,120.6 194.5,120.0 194.5,121.9 194.5,121.6 194.5,122.2 194.5,123.6 194.5,122.5 194.6,124.5 194.6,124.9 194.7,124.9 194.7,126.6 194.8,126.2 194.8,127.1 194.9,127.8 194.9,128.9 195.0,128.4 195.0,129.4 195.1,130.0 195.1,130.9 195.2,132.1 195.2,131.6 195.2,133.3 195.3,133.1 195.3,133.9 195.4,134.0 195.4,135.1 195.5,136.7 195.5,136.7 195.6,137.5 195.6,137.2 195.7,137.8 195.7,138.4 195.8,139.6 195.8,140.3 195.9,141.2 195.9,140.3 196.0,142.3 196.0,143.3 196.0,143.2 196.0,142.8 196.1,143.9 196.1,143.9 196.1,144.9 196.1,147.0 196.2,147.0 196.2,147.7 196.2,148.5 196.2,149.4 196.2,149.4 196.3,150.0 196.3,150.6 196.3,151.4 196.3,151.8 196.3,152.6 196.4,152.2 196.4,153.8 196.4,154.0 196.4,155.2 196.4,154.5 196.5,155.2 196.5,155.5 196.5,157.6 196.5,158.5 196.6,158.6 196.6,158.6 196.6,160.1 196.6,160.7 196.6,160.8 196.7,160.8 196.7,161.5 196.7,162.4 196.7,162.8 196.8,163.6 196.8,164.6 196.8,165.8 196.8,164.7 196.8,166.3 196.9,165.9 196.9,166.6 196.9,168.6 196.9,168.8 196.9,170.1 197.0,169.7 197.0,169.5 197.0,170.8 197.0,171.8 197.0,173.1 197.1,173.8 197.1,173.4 197.1,173.9 197.1,173.9 197.2,175.6 197.2,175.3 197.2,175.8 197.2,176.1 197.3,176.7 197.3,178.7 197.3,178.2 197.3,180.5 197.4,179.3 197.4,181.5 197.4,180.6 197.4,181.0 197.5,183.0 197.5,182.7 197.5,184.3 197.5,183.8 197.6,184.1 197.6,186.2 197.6,186.7 197.6,187.6 197.7,187.9 197.7,187.3 197.7,189.0 197.8,189.7 197.8,189.9 197.8,191.4 197.8,190.7 197.9,192.7 197.9,192.8 197.9,192.0 197.9,192.6 198.0,194.5 198.0,195.5 198.0,194.6 198.0,195.7 198.1,197.1 198.1,196.6 198.1,198.6 198.1,198.5 198.2,198.2 198.2,199.4 198.2,200.5 198.3,200.8 198.3,201.9 198.3,201.4 198.4,203.3 198.4,203.1 198.4,204.3 198.4,204.8 198.5,205.0 198.5,205.6 198.5,207.0 198.6,207.9 198.6,208.2 198.6,208.4 198.7,208.4 198.7,208.6 198.7,211.0 198.7,211.1 198.8,211.9 198.8,211.6 198.8,212.7 198.9,214.1 198.9,214.4 198.9,214.5 199.0,214.6 199.0,215.4 199.0,216.9 199.0,216.5 199.1,217.7 199.1,218.2 199.1,219.4 199.2,219.8 199.2,219.4 199.2,219.4 199.3,220.6 199.3,221.5 199.3,222.4 199.3,223.5 199.4,224.2 199.4,223.2 199.4,225.4 199.5,225.9 199.5,226.6 199.5,226.7 199.6,226.7 199.6,228.4 199.6,229.0 199.6,229.3 199.7,230.4 199.7,229.9 199.7,230.0 199.8,231.5 199.8,232.6 199.8,230.8 199.9,231.3 199.9,231.1 199.9,229.1 200.0,229.2 200.0,228.8 200.0,227.7 200.1,226.6 200.1,226.1 200.2,226.5 200.2,226.0 200.2,224.7 200.3,223.4 200.3,224.2 200.3,223.5 200.4,221.9 200.4,222.0 200.4,222.0 200.5,221.4 200.5,220.0 200.5,219.4 200.6,219.0 200.6,217.6 200.6,217.0 200.7,216.4 200.7,216.8 200.7,215.5 200.8,215.3 200.8,214.4 200.8,214.0 200.9,212.7 200.9,211.9 201.0,213.2 201.0,211.3 201.0,210.2 201.1,210.7 201.1,210.4 201.1,208.5 201.2,208.8 201.2,207.7 201.8,208.2 202.4,207.4 203.0,207.7 203.6,209.8 204.2,209.7 204.2,209.6 204.3,210.3 204.3,210.3 204.3,212.0 204.4,211.9 204.4,213.5 204.4,213.7 204.5,214.4 204.5,215.3 204.5,214.5 204.6,214.7 204.6,215.6 204.6,216.2 204.7,216.6 204.7,217.1 204.7,218.7 204.8,220.0 204.8,219.7 204.8,221.3 204.9,221.8 204.9,220.8 204.9,222.4 205.0,222.6 205.0,222.7 205.0,225.0 205.1,224.2 205.1,225.4 205.1,226.1 205.2,227.4 205.2,227.4 205.2,227.4 205.3,228.1 205.3,228.2 205.3,230.4 205.4,231.0 205.4,230.1 205.4,230.3 205.5,231.4 205.5,232.2 205.5,233.9 205.6,234.5 205.6,234.9 205.6,234.0 205.7,236.0 205.7,236.5 205.7,237.0 205.8,238.2 205.8,237.0 205.8,237.8 205.9,239.6 205.9,240.6 205.9,240.6 206.0,240.5 206.0,241.7 206.0,242.6 206.1,241.9 206.1,242.9 206.1,243.4 206.2,243.7 206.2,245.0 206.2,245.0 206.3,245.8 206.3,246.2 206.3,247.8 206.4,247.1 206.4,249.1 206.4,248.7 206.5,249.0 206.5,251.4 206.5,249.3 206.6,250.1 206.6,249.4 206.7,248.8 206.7,246.7 206.7,246.7 206.8,245.4 206.8,246.5 206.9,245.7 206.9,244.7 206.9,243.7 207.0,242.9 207.0,243.2 207.1,241.9 207.1,241.6 207.1,240.0 207.2,239.6 207.2,238.6 207.3,239.3 207.3,238.4 207.3,237.0 207.4,237.8 207.4,236.0 207.5,235.7 207.5,234.6 207.6,234.2 207.6,234.7 207.6,233.1 207.7,232.2 207.7,232.2 207.8,231.2 207.8,231.8 207.8,229.6 207.9,230.7 207.9,228.3 208.0,229.3 208.0,228.3 208.0,226.8 208.1,226.7 208.1,225.7 208.2,225.0 208.2,224.3 208.2,224.0 208.3,224.7 208.3,224.1 208.4,223.3 208.4,221.0 208.4,220.8 208.5,221.4 208.5,219.1 208.6,219.9 208.6,218.4 208.6,220.4 208.7,219.1 208.7,221.2 208.7,220.9 208.8,221.1 208.8,221.5 208.8,223.7 208.9,223.7 208.9,223.7 208.9,224.8 209.0,226.3 209.0,225.6 209.1,226.9 209.1,226.6 209.1,227.3 209.2,229.1 209.2,229.6 209.2,229.2 209.3,229.5 209.3,230.2 209.3,231.8 209.4,232.2 209.4,232.4 209.4,232.8 209.5,234.3 209.5,235.1 209.5,235.9 209.6,236.0 209.6,235.9 209.6,236.2 209.7,238.2 209.7,238.1 209.7,239.4 209.8,238.6 209.8,240.8 209.8,240.4 209.9,242.0 209.9,242.7 209.9,242.6 210.0,242.2 210.0,244.6 210.1,244.4 210.1,245.8 210.1,245.2 210.2,245.6 210.2,247.5 210.2,247.2 210.3,247.4 210.3,248.4 210.3,249.5 210.4,248.9 210.4,250.5 210.5,251.0 210.5,251.8 210.6,251.6 210.6,253.4 210.7,254.2 210.7,254.9 210.8,254.4 210.8,255.8 210.8,255.8 210.9,257.1 210.9,256.3 211.0,258.6 211.1,259.4 211.1,259.1 211.2,259.7 211.2,260.3 211.2,261.0 211.3,260.5 211.3,263.1 211.4,262.2 211.4,262.7 211.5,263.2 211.5,264.1 211.6,265.8 211.6,264.8 211.7,265.6 211.8,267.4 211.9,267.0 212.0,267.3 212.1,269.0 212.2,269.6 212.3,270.1 212.4,271.1 212.5,270.5 212.6,272.6 212.7,272.9 212.8,272.2 212.9,273.0 213.1,274.3 213.2,275.0 213.3,275.1 213.4,275.4 213.5,276.6 213.6,276.7 213.7,278.2 213.8,279.4 213.9,278.5 214.0,280.0 214.1,281.0 214.2,280.4 214.3,282.3 214.4,283.2 214.5,282.7 214.6,283.4 214.7,284.8 214.8,284.8 214.9,285.2 215.0,286.9 215.1,287.2 215.2,286.9 215.3,287.3 215.4,288.1 215.5,289.0 215.6,290.7 215.6,290.9 215.6,291.7 215.6,292.2 215.6,292.8 215.6,291.8 215.6,293.4 215.7,294.9 215.7,295.4 215.7,294.7 215.7,295.6 215.7,296.6 215.7,296.7 215.7,297.7 215.7,297.3 215.7,298.7 215.7,299.4 215.7,299.1 215.7,299.9 215.7,302.2 215.7,302.4 215.8,303.3 215.8,303.3 215.8,304.3 215.8,305.0 215.8,305.7 215.8,304.6 215.8,306.4 215.8,306.2 215.8,307.7 215.8,307.5 215.8,308.6 215.8,310.0 215.8,310.0 215.8,309.8 215.9,311.0 215.9,311.4 215.9,313.1 215.9,312.4 215.9,313.0 215.9,314.3 215.9,313.8 215.9,314.2 216.0,314.3 216.0,312.8 216.0,311.7 216.1,311.5 216.1,311.0 216.1,309.6 216.2,309.0 216.2,308.4 216.2,308.1 216.3,307.7 216.3,306.9 216.3,306.2 216.4,305.3 216.4,305.6 216.4,305.5 216.5,304.5 216.5,303.8 216.5,303.3 216.6,301.8 216.6,302.2 216.6,301.1 216.7,300.7 216.7,300.2 216.7,299.3 216.8,298.4 216.8,297.7 216.8,297.0 216.9,297.0 216.9,296.1 216.9,295.9 217.0,294.2 217.0,294.2 217.0,294.6 217.1,292.8 217.1,292.8 217.3,292.1 217.6,291.1 217.8,292.0 218.1,290.0 218.3,290.4 218.5,288.6 218.8,287.9 219.0,288.9 219.2,287.5 219.5,286.1 219.7,286.2 219.9,285.8 220.2,285.8 220.4,284.0 220.7,283.6 220.9,284.5 221.0,284.7 221.2,284.2 221.3,285.2 221.4,285.8 221.5,287.1 221.7,287.6 221.8,288.7 221.9,289.3 222.0,289.3 222.2,290.4 222.3,291.1 222.4,291.7 222.5,291.8 222.5,293.0 222.6,293.5 222.7,294.5 222.7,293.5 222.8,295.7 222.9,294.5 222.9,296.7 223.0,296.9 223.1,297.4 223.1,298.9 223.2,298.8 223.3,299.1 223.3,300.4 223.4,301.2 223.5,301.3 223.5,301.5 223.6,302.2 223.7,302.9 223.7,304.0 223.8,303.8 223.9,304.6 223.9,305.5 224.0,305.8 224.1,306.3 224.1,307.9 224.2,308.6 224.4,308.5 224.5,309.0 224.7,309.1 224.9,310.0 225.0,310.3 225.2,311.7 225.4,312.4 225.6,312.0 225.7,314.3 225.9,313.7 226.1,315.4 226.2,316.0 226.4,316.8 226.6,315.9 226.7,317.0 226.9,318.5 227.0,317.3 227.2,318.0 227.3,319.6 227.5,320.1 227.6,321.5 227.8,321.8 227.9,322.0 228.1,323.5 228.2,323.1 228.4,323.7 228.5,324.7 228.7,324.7 228.8,325.2 228.9,326.3 229.0,326.4 229.2,328.2 229.3,328.3 229.4,328.6 229.5,328.3 229.6,329.5 229.7,330.2 229.8,331.1 229.9,331.7 230.1,332.9 230.2,333.7 230.3,333.4 230.4,333.9 230.4,334.9 230.5,336.2 230.5,335.6 230.5,336.6 230.6,337.8 230.6,337.1 230.6,338.0 230.7,340.0 230.7,340.3 230.7,340.3 230.8,340.1 230.8,342.3 230.8,342.5 230.9,343.4 230.9,344.4 230.9,344.8 231.0,344.5 231.0,344.6 231.1,345.5 231.1,346.5 231.2,347.1 231.2,347.1 231.2,347.7 231.3,349.2 231.3,349.8 231.4,349.9 231.4,351.8 231.5,351.7 231.5,351.1 231.6,352.5 231.7,353.8 231.7,353.5 231.8,354.9 231.8,354.1 231.8,355.3 231.9,357.0 231.9,357.1 232.0,357.9 232.0,357.6 232.1,358.8 232.1,359.5 232.2,359.5 232.2,360.9 232.2,361.3 232.2,362.8 232.2,362.6 232.2,362.8 232.2,362.9 232.2,363.5 232.2,365.3 232.2,364.6 232.2,365.2 232.2,366.0 232.2,367.3 232.2,368.5 232.2,368.6 232.2,369.6 232.3,368.8 232.3,369.3 232.3,371.4 232.3,371.1 232.3,372.5 232.3,372.3 232.3,372.6 232.3,373.4 232.3,373.6 232.3,375.8 232.3,375.8 232.3,375.9 232.3,376.7 232.3,377.2 232.3,377.2 232.3,379.4 232.3,379.4 232.3,380.8 232.3,380.3 232.3,381.3 232.3,381.2 232.3,381.3 232.3,383.7 232.3,384.2 232.3,383.7 232.3,385.5 232.3,385.9 232.3,385.5 232.3,386.7 232.3,388.0 232.3,387.7 232.4,389.2 232.4,388.4 232.4,389.3 232.4,390.5 232.4,390.1 232.4,390.9 232.4,392.6 232.4,392.5 232.4,393.7 232.4,393.2 232.4,393.6 232.4,394.6 232.4,394.9 232.4,397.0 232.4,396.3 232.4,397.4 232.4,395.9 232.4,396.2 232.5,395.3 232.5,394.7 232.5,393.4 232.5,392.9 232.5,393.7 232.5,392.2 232.6,391.4 232.6,390.7 232.6,390.2 232.6,389.5 232.6,388.5 232.7,389.2 232.7,387.9 232.7,387.0 232.7,387.5 232.7,385.6 232.7,385.4 232.8,385.9 232.8,383.9 232.8,383.9 232.8,384.1 232.8,383.4 232.8,381.6 232.9,381.3 232.9,381.5 232.9,380.2 232.9,380.7 232.9,378.6 233.0,379.5 233.0,378.0 233.0,376.9 233.0,376.7 233.0,375.5 233.0,376.0 233.1,374.5 233.1,375.2 233.1,374.0 233.1,374.2 233.2,374.5 233.2,375.9 233.2,375.7 233.2,377.6 233.2,376.7 233.3,378.1 233.3,378.8 233.3,378.9 233.3,380.5 233.4,380.3 233.4,381.5 233.4,381.9 233.4,382.0 233.5,382.8 233.5,382.8 233.5,383.6 233.6,385.6 233.6,385.1 233.6,386.4 233.6,385.9 233.7,387.5 233.7,387.7 233.7,388.6 233.7,388.8 233.8,388.9 233.8,390.0 233.8,390.5 233.8,390.9 233.8,392.7 233.9,392.4 233.9,393.3 233.9,393.7 233.9,392.8 234.0,392.4 234.0,391.7 234.0,389.7 234.0,389.3 234.1,388.2 234.1,388.9 234.1,388.2 234.1,387.0 234.2,386.5 234.2,386.4 234.2,385.8 234.2,384.3 234.3,384.9 234.3,383.3 234.3,383.2 234.3,381.7 234.4,381.0 234.4,381.9 234.4,380.9 234.4,380.3 234.5,378.3 234.5,377.7 234.5,377.3 234.5,378.0 234.6,378.8 234.6,379.6 234.6,379.5 234.6,380.7 234.7,381.9 234.7,381.6 234.7,383.5 234.7,383.6 234.8,384.5 234.8,384.2 234.8,385.2 234.8,386.3 234.8,386.2 234.9,386.1 234.9,388.4 234.9,388.9 234.9,388.5 235.0,388.6 235.0,390.9 235.0,391.0 235.0,390.5 235.1,391.5 235.1,391.8 235.1,393.8 235.1,393.2 235.2,395.2 235.2,395.5 235.2,393.6 235.3,394.2 235.3,392.9 235.4,393.0 235.4,392.6 235.4,390.8 235.5,389.8 235.5,390.9 235.5,389.3 235.6,389.7 235.6,388.6 235.7,388.0 235.7,387.6 235.7,386.6 235.8,385.6 235.8,384.2 235.8,384.9 235.9,383.7 235.9,383.3 236.0,383.5 236.0,381.3 236.1,383.1 236.1,382.3 236.2,384.3 236.2,385.1 236.3,384.6 236.3,385.8 236.4,387.3 236.4,387.3 236.5,387.7 236.6,387.7 236.6,388.0 236.7,389.2 236.7,389.9 236.8,390.2 236.8,391.0 236.9,391.3 236.9,391.8 236.9,391.1 236.9,389.7 237.0,389.1 237.0,389.0 237.0,388.3 237.0,388.6 237.0,386.9 237.0,386.2 237.1,386.7 237.1,384.6 237.1,384.9 237.1,383.8 237.1,384.2 237.1,383.0 237.2,382.9 237.2,381.1 237.2,381.5 237.2,380.7 237.2,379.8 237.2,379.8 237.3,379.4 237.3,377.3 237.3,377.1 237.3,376.6 237.3,375.7 237.3,374.8 237.3,374.6 237.4,373.9 237.4,374.3 237.4,373.2 237.4,371.9 237.4,371.7 237.4,371.4 237.5,370.6 237.5,369.6 237.5,368.8 237.5,368.1 237.5,369.4 237.5,368.3 237.6,366.4 237.6,367.1 237.6,367.0 237.6,365.6 237.6,364.0 237.6,364.2 237.7,363.5 237.7,362.4 237.7,362.5 237.7,360.8 237.7,363.2 237.7,363.3 237.8,363.9 237.8,365.1 237.8,365.2 237.8,365.0 237.8,365.6 237.9,366.0 237.9,366.4 237.9,368.5 237.9,369.2 238.0,368.7 238.0,369.1 238.0,370.6 238.0,371.6 238.0,372.4 238.1,371.5 238.1,373.4 238.1,374.1 238.1,374.5 238.1,374.3 238.2,374.6 238.2,376.5 238.2,376.1 238.2,376.8 238.2,377.8 238.3,378.0 238.3,379.6 238.3,379.0 238.3,379.2 238.4,380.9 238.4,381.6 238.4,382.6 238.4,383.0 238.4,384.0 238.5,384.7 238.5,384.4 238.5,385.0 238.5,383.7 238.6,383.4 238.6,383.3 238.6,381.7 238.7,382.3 238.7,380.6 238.7,380.6 238.7,381.0 238.8,378.6 238.8,377.9 238.8,378.1 238.9,377.0 238.9,377.4 238.9,375.4 239.0,376.4 239.0,375.8 239.0,375.1 239.0,373.7 239.1,372.8 239.1,373.0 239.1,372.1 239.2,371.3 239.2,370.5 239.2,371.3 239.3,372.4 239.3,373.3 239.3,374.1 239.3,373.2 239.4,374.1 239.4,375.0 239.4,375.8 239.5,376.0 239.5,376.3 239.5,376.7 239.5,377.8 239.6,378.7 239.6,380.3 239.6,380.8 239.7,381.4 239.7,382.2 239.7,382.8 239.7,382.7 239.8,383.7 239.8,382.8 239.8,384.7 239.9,385.1 239.9,385.1 239.9,386.3 239.9,387.7 240.0,387.3 240.0,388.3 240.0,387.0 240.0,386.5 240.1,386.9 240.1,384.6 240.1,384.3 240.1,384.7 240.1,383.6 240.2,382.3 240.2,382.8 240.2,381.6 240.2,381.4 240.3,380.5 240.3,380.1 240.3,379.6 240.3,378.6 240.3,377.4 240.4,377.0 240.4,377.8 240.4,376.5 240.4,375.0 240.4,375.9 240.5,374.0 240.5,373.1 240.5,373.4 240.5,372.2 240.6,372.1 240.6,371.6 240.6,370.3 240.6,370.4 240.6,368.9 240.7,369.1 240.7,368.6 240.7,367.0 240.7,368.2 240.8,368.2 240.8,369.5 240.8,371.0 240.8,371.0 240.9,371.9 240.9,372.6 240.9,371.9 241.0,374.3 241.0,374.4 241.0,373.8 241.0,375.8 241.1,375.6 241.1,375.7 241.1,377.9 241.2,377.8 241.2,378.8 241.2,378.1 241.2,380.0 241.3,379.2 241.3,380.2 241.3,381.1 241.4,381.0 241.4,382.7 241.4,382.6 241.4,383.4 241.5,384.8 241.5,384.9 241.5,385.2 241.6,384.0 241.6,383.9 241.6,382.6 241.7,382.7 241.7,382.0 241.7,380.0 241.8,380.5 241.8,379.1 241.8,379.3 241.8,378.5 241.9,378.2 241.9,376.1 241.9,376.0 242.0,376.1 242.0,375.9 242.0,376.0 242.1,375.3 242.1,377.0 242.1,376.6 242.2,378.1 242.2,379.2 242.2,378.4 242.3,380.7 242.3,380.8 242.3,380.5 242.4,381.0 242.4,382.1 242.4,383.5 242.4,383.6 242.5,383.2 242.5,383.6 242.5,384.4 242.6,386.4 242.6,385.8 242.6,387.1 242.7,387.2 242.7,388.6 242.7,388.6 242.8,388.7 242.8,390.8 243.2,390.7 243.7,391.6 243.7,391.2 243.8,390.9 243.8,388.4 243.9,388.5 243.9,387.5 243.9,387.6 244.0,387.7 244.0,387.0 244.0,384.9 244.1,384.6 244.1,385.2 244.2,384.4 244.2,383.2 244.2,382.8 244.3,381.5 244.3,382.3 244.4,380.8 244.4,381.1 244.4,380.0 244.5,378.4 244.5,378.3 244.5,377.4 244.6,378.2 244.6,377.0 244.7,375.3 244.7,374.9 244.7,374.7 244.8,374.3 244.8,374.0 244.9,373.0 244.9,372.3 244.9,371.0 245.0,371.6 245.0,370.5 245.0,369.2 245.1,369.5 245.1,370.0 245.2,367.5 245.2,367.1 245.2,367.5 245.3,366.1 245.3,365.5 245.4,365.3 245.4,364.2 245.5,364.2 245.5,363.5 245.6,363.8 245.7,363.2 245.7,360.7 245.8,361.1 245.8,361.0 245.8,360.5 245.9,359.7 245.9,358.8 246.0,358.2 246.1,357.1 246.1,356.3 246.2,356.7 246.2,356.2 246.2,355.7 246.3,354.6 246.3,353.2 246.4,353.6 246.5,352.9 246.5,351.8 246.6,351.4 246.6,350.3 246.7,350.0 246.7,349.1 246.8,347.8 246.8,347.8 247.4,348.1 247.9,349.9 248.4,349.3 249.0,349.4 249.2,348.6 249.3,347.9 249.4,347.6 249.6,346.5 249.8,345.7 249.9,346.8 250.1,345.3 250.2,344.7 250.3,344.3 250.5,343.2 250.5,342.3 250.6,341.5 250.6,341.4 250.7,340.8 250.7,341.0 250.8,340.1 250.8,340.2 250.9,338.4 250.9,339.0 251.0,337.7 251.0,336.1 251.1,335.7 251.1,335.9 251.2,336.1 251.2,334.2 251.3,334.4 251.3,333.1 251.4,333.4 251.4,331.2 251.5,331.4 251.5,331.7 251.6,329.8 251.6,329.2 251.7,328.1 251.7,327.8 251.8,327.4 251.8,327.6 251.9,326.0 251.9,325.8 252.1,324.8 252.2,325.0 252.3,324.9 252.5,323.9 252.7,322.3 252.8,322.8 253.0,322.7 253.1,321.3 253.2,319.7 253.4,320.5 253.7,320.2 254.1,318.6 254.4,317.7 254.7,317.3 255.1,317.5 255.4,317.7 255.7,316.7 256.1,316.7 256.4,314.8 256.6,315.6 256.8,317.1 256.9,317.4 257.1,317.5 257.3,318.6 257.5,318.5 257.6,318.6 257.8,319.8 258.0,319.7 258.2,321.4 258.3,321.4 258.5,322.3 258.7,323.1 258.7,321.8 258.8,321.6 258.8,320.1 258.9,321.4 258.9,320.0 259.0,320.3 259.0,317.8 259.0,318.3 259.1,317.9 259.1,316.6 259.2,315.5 259.2,315.0 259.3,314.4 259.3,315.0 259.3,313.1 259.4,313.9 259.4,312.5 259.5,312.2 259.5,311.7 259.6,311.0 259.6,310.6 259.6,309.9 259.7,308.8 259.7,309.0 259.8,307.4 259.8,307.7 259.9,307.2 259.9,306.7 260.0,305.1 260.0,305.4 260.0,305.3 260.1,303.6 260.1,302.7 260.2,302.5 260.2,302.8 260.3,300.6 260.3,299.7 260.3,300.1 260.4,299.8 260.4,299.4 260.5,298.0 260.5,298.7 260.6,296.6 260.6,297.0 260.7,296.3 260.9,296.7 261.0,297.5 261.1,298.0 261.3,299.5 261.4,300.2 261.6,300.0 261.7,302.1 261.8,301.6 262.0,301.7 262.1,302.4 262.2,304.1 262.4,305.1 262.5,304.1 262.5,304.5 262.6,306.6 262.6,306.1 262.7,308.2 262.7,307.8 262.7,308.7 262.8,308.7 262.8,310.2 262.9,310.1 262.9,310.4 262.9,312.2 263.0,311.2 263.0,313.1 263.1,312.3 263.1,314.1 263.2,314.2 263.2,315.7 263.2,314.7 263.3,316.3 263.3,316.6 263.4,318.2 263.4,318.9 263.4,318.9 263.5,318.6 263.5,319.3 263.6,319.9 263.6,320.9 263.6,321.1 263.7,321.6 263.7,323.3 263.8,323.7 263.8,323.6 263.9,325.6 263.9,324.6 263.9,325.9 264.0,325.7 264.0,327.7 264.1,328.3 264.1,327.7 264.1,329.3 264.2,330.0 264.2,329.6 264.3,330.3 264.3,331.2 264.4,331.4 264.4,329.3 264.5,329.7 264.6,329.0 264.7,328.1 264.7,327.7 264.8,327.7 264.9,325.8 265.0,326.5 265.0,324.8 265.1,325.1 265.2,324.6 265.2,322.7 265.3,323.4 265.4,323.1 265.5,321.1 265.5,319.9 265.6,319.5 265.7,320.6 265.8,318.1 265.8,319.3 265.9,317.1 266.0,317.7 266.1,315.8 266.1,315.3 266.2,315.8 266.3,314.0 266.4,313.9 266.5,314.4 266.6,313.4 266.7,313.1 266.9,312.7 267.0,310.2 267.1,310.0 267.2,310.5 267.3,309.6 267.4,307.7 267.5,308.0 267.6,306.9 267.7,306.7 267.8,305.4 268.0,304.6 268.1,305.9 268.2,304.0 268.3,304.5 268.4,302.4 268.5,302.5 268.6,302.4 268.8,303.6 268.9,303.7 269.1,305.3 269.2,304.9 269.4,306.7 269.5,306.8 269.6,306.6 269.8,307.7 269.9,308.6 270.1,310.1 270.2,309.5 270.4,309.9 270.5,312.0 270.7,312.5 270.8,312.8 270.9,311.2 271.0,310.4 271.1,310.0 271.2,309.0 271.2,308.4 271.3,308.7 271.4,307.9 271.5,307.6 271.6,306.6 271.7,305.3 271.8,306.0 271.9,305.4 271.9,304.5 272.0,303.9 272.1,303.6 272.2,303.6 272.3,302.8 272.4,301.9 272.5,300.6 272.6,299.9 272.6,299.5 272.7,300.0 272.8,298.2 272.9,297.6 273.0,297.0 273.1,295.9 273.1,297.0 273.2,294.4 273.3,295.0 273.3,295.0 273.4,293.1 273.5,293.2 273.5,292.1 273.6,291.2 273.6,290.5 273.7,289.8 273.8,290.6 273.8,289.9 273.9,289.5 274.0,287.2 274.0,287.9 274.1,286.6 274.2,286.6 274.2,285.8 274.3,284.7 274.4,285.4 274.4,282.9 274.5,283.8 274.6,283.4 274.6,282.1 274.7,281.7 274.8,281.9 274.8,279.7 274.9,279.9 275.0,279.5 275.0,278.2 275.1,278.3 275.1,277.0 275.2,276.7 275.3,276.3 275.3,275.8 275.4,274.5 275.5,274.5 275.5,273.7 275.6,272.4 275.7,273.8 275.8,273.7 275.9,275.6 276.0,275.3 276.1,276.4 276.2,276.6 276.2,277.2 276.3,277.2 276.4,277.7 276.5,279.9 276.6,279.7 276.7,280.2 276.8,280.9 276.9,282.0 277.0,281.5 277.1,281.9 277.2,283.8 277.3,283.7 277.3,284.7 277.4,285.7 277.5,286.4 277.6,286.9 277.7,285.9 277.8,287.2 277.9,288.7 278.0,289.3 278.1,288.5 278.3,289.2 278.4,290.0 278.5,290.4 278.6,291.5 278.8,293.0 278.9,293.1 279.0,293.6 279.1,293.5 279.3,294.8 279.4,296.6 279.9,296.4 280.5,296.2 281.1,296.7 281.6,297.7 281.9,297.1 282.2,295.3 282.5,295.8 282.8,294.6 283.0,294.3 283.3,293.2 283.6,292.9 283.9,292.3 284.5,292.7 285.1,292.2 285.7,292.9 286.3,293.9 286.9,293.2 287.0,292.8 287.0,293.3 287.1,291.8 287.1,291.3 287.2,290.5 287.2,291.1 287.3,289.0 287.4,289.5 287.4,289.3 287.5,287.4 287.5,287.2 287.6,287.3 287.6,286.4 287.7,285.3 287.8,284.0 287.8,284.2 287.9,283.4 287.9,283.5 288.0,282.1 288.1,281.7 288.1,281.6 288.2,281.3 288.2,279.7 288.3,279.2 288.3,279.0 288.4,279.0 288.7,277.0 289.1,278.1 289.4,277.0 289.7,275.8 290.0,275.8 290.4,274.6 290.7,273.5 290.8,274.3 290.9,272.9 291.0,272.6 291.1,271.9 291.1,272.1 291.2,271.2 291.3,269.1 291.4,269.6 291.5,268.7 291.6,268.1 291.7,268.2 291.8,266.7 291.8,266.2 291.9,266.5 292.0,264.9 292.1,264.4 292.2,263.8 292.3,263.8 292.3,262.9 292.4,262.4 292.4,261.1 292.5,259.8 292.5,260.5 292.6,259.6 292.6,259.4 292.7,258.8 292.8,256.9 292.8,256.5 292.9,255.6 292.9,256.4 293.0,254.4 293.0,253.8 293.1,254.5 293.1,253.5 293.2,251.8 293.3,252.5 293.3,251.9 293.4,250.9 293.4,249.4 293.5,250.0 293.5,248.9 293.6,248.6 293.6,248.8 293.7,247.8 293.8,247.3 293.8,245.3 293.9,245.1 293.9,244.8 294.0,243.2 294.1,244.6 294.1,242.5 294.2,241.9 294.2,241.4 294.3,240.7 294.4,241.3 294.4,240.1 294.5,239.4 294.5,238.6 294.6,237.2 294.7,237.1 294.7,237.7 294.8,236.9 294.8,236.4 294.9,234.6 295.0,233.9 295.0,233.0 295.1,233.4 295.1,232.5 295.2,232.0 295.5,231.5 295.8,231.1 296.0,230.1 296.3,230.4 296.4,229.8 296.4,231.9 296.5,231.8 296.6,231.4 296.7,232.5 296.7,233.6 296.8,234.0 296.9,234.9 296.9,235.1 297.0,235.6 297.1,237.3 297.1,236.9 297.2,238.3 297.3,239.1 297.4,239.3 297.4,239.7 297.5,241.3 298.2,239.9 299.0,240.5 299.1,239.4 299.2,240.8 299.3,241.8 299.4,241.2 299.5,243.5 299.6,242.5 299.7,244.2 299.8,243.9 299.9,246.0 300.0,245.9 300.1,247.0 300.2,247.0 300.3,248.0 300.4,248.6 300.5,248.4 300.5,248.9 300.6,250.7 300.7,250.0 300.8,252.1 300.9,251.3 301.0,251.7 301.1,252.3 301.2,254.3 301.3,255.2 301.4,254.8 301.5,255.9 301.6,255.7 301.7,257.6 301.8,257.8 301.9,257.3 302.0,257.7 302.3,258.4 302.5,256.6 302.8,257.6 303.0,255.9 303.3,255.2 303.6,255.4 303.8,254.3 304.1,254.2 304.3,252.8 304.6,253.8 304.8,252.0 305.1,252.5 305.2,251.7 305.4,253.6 305.5,254.6 305.6,254.1 305.8,254.0 305.9,255.3 306.1,256.4 306.2,256.2 306.3,257.5 306.5,257.2 306.6,258.5 306.8,259.7 307.0,259.7 307.3,260.8 307.5,260.2 307.7,262.3 307.9,261.4 308.1,263.6 308.4,264.4 308.6,264.9 308.8,264.7 309.1,264.7 309.5,265.4 309.8,266.7 310.1,266.8 310.4,268.2 310.8,267.0 311.1,268.4 311.3,269.7 311.6,269.8 311.8,270.3 312.0,270.0 312.2,270.7 312.5,271.5 312.7,273.4 312.9,273.9 313.2,273.3 313.4,275.2 313.5,274.1 313.6,275.8 313.7,277.2 313.8,276.5 313.9,278.3 314.0,278.4 314.1,277.7 314.2,278.9 314.3,279.8 314.4,280.0 314.5,281.6 314.6,281.0 314.7,282.9 314.8,282.5 314.9,282.6 315.1,284.2 315.3,283.9 315.5,285.4 315.7,286.4 315.9,286.7 316.1,287.0 316.2,286.7 316.4,288.3 316.6,288.0 316.8,289.7 317.0,289.3 317.2,290.8 317.4,290.9 317.5,291.5 317.6,292.7 317.7,292.3 317.8,292.9 317.9,295.1 318.0,294.5 318.1,296.1 318.2,296.7 318.3,296.6 318.4,296.5 318.5,297.0 318.6,299.2 318.7,298.2 318.8,299.6 318.9,300.3 319.0,300.0 319.0,301.4 319.1,301.4 319.1,302.7 319.2,303.3 319.3,303.6 319.3,303.9 319.4,304.9 319.4,305.1 319.5,305.5 319.6,306.4 319.6,308.2 319.7,308.1 319.7,309.5 319.8,308.4 319.9,310.8 319.9,310.5 320.0,311.7 320.0,311.9 320.1,312.7 320.2,312.4 320.2,314.1 320.3,313.5 320.3,314.3 320.4,314.5 320.6,314.6 320.8,314.3 320.9,313.2 321.1,313.8 321.3,311.6 321.5,312.0 321.6,310.8 321.8,310.9 322.0,310.7 322.2,310.0 322.3,308.1 322.5,307.9 322.7,308.0 323.1,309.3 323.4,307.9 323.8,309.5 324.2,310.2 324.5,310.9 324.9,310.5 325.1,310.8 325.4,309.4 325.6,309.7 325.8,307.3 326.0,308.5 326.3,306.8 326.5,306.1 326.6,304.9 326.6,304.6 326.6,304.9 326.7,304.2 326.8,302.6 326.8,302.3 326.9,301.3 326.9,300.8 326.9,300.3 327.0,299.9 327.1,300.6 327.1,300.0 327.1,299.0 327.2,297.8 327.2,297.2 327.3,297.2 327.4,296.8 327.4,295.9 327.4,295.0 327.5,293.6 327.6,293.8 327.6,293.6 327.6,292.9 327.7,290.9 327.8,291.6 327.8,290.2 327.9,289.2 327.9,290.2 327.9,289.1 328.0,288.6 328.1,286.8 328.1,287.5 328.2,287.1 328.2,286.5 328.3,285.5 328.3,285.1 328.4,284.4 328.4,283.4 328.5,282.4 328.6,282.6 328.6,281.9 328.7,281.5 328.7,279.7 328.8,280.4 328.8,278.9 328.9,279.2 328.9,276.9 329.0,278.0 329.1,277.0 329.1,275.3 329.2,275.9 329.2,274.0 329.3,273.4 329.3,273.3 329.4,272.2 329.4,272.1 329.5,272.3 329.6,272.5 329.6,273.1 329.7,273.1 329.7,274.5 329.8,275.1 329.9,275.5 329.9,276.6 330.0,277.0 330.0,276.7 330.1,276.7 330.2,278.4 330.2,279.4 330.3,279.0 330.3,280.1 330.4,281.2 330.5,281.7 330.5,280.8 330.6,282.4 330.6,282.0 330.7,282.8 330.8,284.8 330.8,284.6 330.9,285.6 330.9,285.9 331.0,286.3 331.3,286.6 331.5,287.4 331.8,289.0 332.1,289.1 332.4,289.0 332.6,289.1 332.9,290.0 333.2,291.4 333.5,291.5 333.7,292.5 334.0,293.3 334.1,292.6 334.2,294.3 334.3,293.6 334.4,295.8 334.5,295.2 334.6,296.0 334.7,297.9 334.8,297.4 334.9,297.7 335.0,299.7 335.1,299.7 335.3,300.9 335.4,300.5 335.5,301.4 335.6,302.9 335.7,302.6 335.8,304.2 335.9,303.2 336.0,305.1 336.1,304.4 336.2,305.7 336.3,305.3 336.4,305.0 336.5,306.0 336.6,304.4 336.7,304.4 336.8,302.7 336.9,302.3 337.0,301.2 337.1,301.5 337.2,301.5 337.3,300.1 337.5,299.3 337.6,299.7 337.7,299.1 337.8,298.0 337.9,296.2 338.0,296.7 338.1,295.7 338.2,296.1 338.3,294.3 338.4,294.3 338.5,293.6 338.6,292.5 339.2,292.4 339.7,292.3 340.2,292.4 340.8,291.2 341.0,290.3 341.2,291.0 341.3,288.6 341.5,289.5 341.7,288.6 341.9,287.8 342.0,287.0 342.2,287.0 342.4,286.7 342.6,285.8 342.7,285.3 342.9,283.3 343.1,283.3 343.4,282.3 343.6,283.4 343.9,282.7 344.1,280.6 344.4,280.9 344.6,280.4 344.9,278.7 345.1,278.9 345.4,279.0 345.6,278.2 345.9,276.9 346.1,277.3 346.3,275.8 346.6,275.7 346.8,274.9 347.1,275.4 347.3,274.2 347.5,273.9 347.8,273.0 348.0,271.9 348.3,272.4 348.5,271.4 348.7,270.7 349.0,269.3 349.2,268.5 349.5,268.7 349.7,268.7 349.8,268.0 349.9,266.5 350.0,265.5 350.1,265.6 350.1,265.7 350.2,263.7 350.3,264.2 350.4,262.5 350.5,262.2 350.6,261.1 350.7,261.0 350.8,260.5 350.8,261.1 350.9,260.5 351.0,258.3 351.1,258.0 351.2,258.6 351.3,256.5 351.4,256.2 351.5,255.8 351.5,254.5 351.6,254.2 351.7,253.9 351.8,253.3 351.9,253.8 352.0,251.8 352.0,251.1 352.1,251.9 352.1,250.4 352.2,250.6 352.3,249.6 352.3,249.3 352.4,247.8 352.4,246.8 352.5,247.4 352.6,246.3 352.6,245.8 352.7,245.5 352.7,245.0 352.8,243.5 352.9,243.1 352.9,243.6 353.0,242.2 353.0,241.1 353.1,241.2 353.2,239.9 353.2,240.3 353.3,238.2 353.4,239.2 353.4,238.1 353.5,237.1 353.5,237.7 353.6,235.7 353.7,235.1 353.7,234.1 353.8,234.5 353.8,234.3 353.9,233.5 354.0,232.4 354.0,232.6 354.1,230.6 354.1,230.4 354.2,230.5 354.3,230.5 354.3,229.3 354.4,228.8 354.4,228.3 354.5,227.0 354.6,227.5 354.6,226.5 354.7,225.1 354.7,224.5 354.8,224.8 354.9,223.3 354.9,222.3 355.0,223.1 355.0,221.8 355.1,221.2 355.2,220.9 355.2,220.7 355.3,218.6 355.3,218.4 355.4,217.3 355.5,217.3 355.5,216.9 355.6,217.0 355.6,216.0 355.7,215.3 355.7,214.3 355.7,214.0 355.7,212.8 355.7,213.4 355.7,212.7 355.8,212.2 355.8,210.2 355.8,210.6 355.8,210.2 355.8,209.1 355.8,209.3 355.8,208.7 355.8,207.8 355.8,207.3 355.8,206.4 355.9,206.2 355.9,204.1 355.9,204.7 355.9,204.1 355.9,203.3 355.9,202.0 355.9,201.0 355.9,201.5 355.9,201.3 355.9,199.6 356.0,198.9 356.0,198.3 356.0,197.5 356.0,198.0 356.0,198.0 356.0,197.1 356.0,195.6 356.0,195.7 356.0,193.8 356.0,194.7 356.0,193.1 356.1,191.9 356.1,192.5 356.1,190.9 356.1,190.6 356.1,189.6 356.1,189.7 356.1,189.4 356.1,189.3 356.1,187.1 356.1,188.1 356.2,186.1 356.2,185.7 356.2,185.9 356.2,184.7 356.2,184.1 356.2,184.0 356.2,182.7 356.2,183.2 356.2,181.5 356.2,182.1 356.2,181.4 356.3,180.3 356.3,178.7 356.3,179.6 356.3,177.5 356.3,177.8 356.3,177.1 356.3,175.7 356.3,176.3 356.3,175.9 356.3,175.0 356.4,174.0 356.4,173.6 356.4,173.2 356.4,171.9 356.4,172.5 356.4,172.2 356.4,171.2 356.4,170.9 356.4,169.1 356.4,169.8 356.5,167.3 356.5,167.6 356.5,166.3 356.5,166.3 356.5,166.2 356.5,165.6 356.5,164.5 356.6,163.7 356.6,162.8 356.6,162.6 356.6,161.7 356.7,161.0 356.7,161.4 356.7,160.4 356.8,159.6 356.8,158.6 356.8,159.0 356.8,157.3 356.9,156.9 356.9,156.9 356.9,156.5 356.9,156.5 357.0,155.4 357.0,155.2 357.0,154.6 357.1,153.6 357.1,153.0 357.1,151.0 357.1,150.7 357.2,149.7 357.2,150.8 357.6,150.0 358.1,149.3 358.6,148.0 359.0,147.6 359.1,147.8 359.1,149.4 359.2,150.7 359.3,150.0 359.4,150.1 359.4,150.9 359.5,151.9 359.6,153.6 359.7,154.0 359.8,153.9 359.8,153.8 359.9,154.5 360.0,155.2 360.1,157.0 360.1,157.0 360.2,158.7 360.3,159.1 360.3,159.5 360.4,159.5 360.5,160.8 360.5,160.0 360.6,160.5 360.6,162.1 360.7,162.5 360.8,162.6 360.8,163.2 360.9,163.4 361.0,165.8 361.0,166.0 361.1,167.0 361.2,167.7 361.2,167.2 361.3,168.4 361.4,168.3 361.4,169.8 361.5,170.5 361.5,169.7 361.6,170.0 361.7,171.0 361.7,172.4 361.8,172.6 361.8,172.4 361.9,174.7 361.9,175.2 361.9,175.2 362.0,174.9 362.0,177.2 362.1,177.2 362.1,176.8 362.1,178.0 362.2,179.2 362.2,180.3 362.2,180.1 362.3,181.0 362.3,180.8 362.3,181.5 362.4,183.4 362.4,183.0 362.4,183.0 362.5,184.6 362.5,184.3 362.6,185.0 362.6,186.2 362.6,187.0 362.7,187.8 362.7,188.5 362.7,188.6 362.8,188.5 362.8,190.4 362.8,189.7 362.9,191.1 362.9,191.6 362.9,192.7 363.0,193.4 363.0,193.1 363.1,194.5 363.1,195.2 363.1,195.4 363.2,195.3 363.2,197.5 363.2,197.5 363.3,197.0 363.3,198.0 363.3,200.1 363.4,199.2 363.4,200.1 363.4,201.5 363.4,202.2 363.5,202.4 363.5,203.2 363.5,202.4 363.5,203.2 363.6,205.5 363.6,205.8 363.6,204.9 363.6,205.5 363.7,206.5 363.7,208.5 363.7,207.7 363.8,209.2 363.8,210.3 363.8,210.3 363.8,211.5 363.9,210.8 363.9,211.2 363.9,211.5 363.9,213.6 364.0,212.9 364.0,215.2 364.0,215.3 364.1,214.9 364.1,216.7 364.1,216.0 364.1,217.3 364.2,217.1 364.2,219.1 364.2,219.9 364.2,220.6 364.3,219.4 364.3,221.7 364.3,221.7 364.3,222.8 364.4,222.8 364.4,223.6 364.4,224.2 364.5,225.2 364.5,224.4 364.5,224.9 364.5,226.5 364.6,226.6 364.6,227.4 364.6,227.3 364.6,229.3 364.7,228.5 364.7,230.7 364.7,231.3 364.7,231.2 364.8,231.1 364.8,232.8 364.8,231.3 364.9,231.1 364.9,229.9 364.9,231.0 365.0,229.6 365.0,228.6 365.1,227.4 365.1,228.1 365.1,227.7 365.2,227.1 365.2,225.0 365.2,224.9 365.3,224.2 365.3,224.5 365.3,222.7 365.4,223.0 365.4,223.1 365.5,222.1 365.5,220.0 365.5,219.5 365.6,219.0 365.6,219.5 365.6,218.7 365.7,218.0 365.7,217.2 365.8,216.5 365.8,216.3 365.8,215.8 365.9,215.7 365.9,214.7 365.9,214.3 366.0,213.9 366.0,213.1 366.0,212.3 366.1,210.3 366.1,211.0 366.2,210.7 366.2,209.3 366.2,209.6 366.3,207.6 366.3,208.5 366.4,208.1 366.6,209.2 366.7,209.0 366.8,209.7 367.0,210.4 367.1,211.0 367.2,211.1 367.4,212.4 367.5,214.1 367.7,214.1 367.8,215.3 367.9,215.5 368.1,216.3 368.2,217.2 368.3,217.4 368.5,217.0 368.6,217.6 368.7,218.5 368.7,218.3 368.8,219.4 368.9,221.3 368.9,221.9 369.0,221.4 369.0,222.8 369.1,223.4 369.2,224.3 369.2,224.7 369.3,224.8 369.4,224.5 369.4,226.6 369.5,226.1 369.5,227.4 369.6,227.4 369.7,228.4 369.7,229.8 369.8,228.8 369.9,230.2 369.9,231.0 370.0,231.4 370.0,232.8 370.1,232.3 370.1,232.7 370.2,231.7 370.2,231.6 370.2,229.3 370.2,228.9 370.3,228.5 370.3,229.1 370.3,226.7 370.4,226.6 370.4,226.9 370.4,226.8 370.5,224.6 370.5,224.5 370.5,224.4 370.5,223.8 370.6,223.3 370.6,222.8 370.6,221.1 370.7,220.6 370.7,219.5 370.7,220.2 370.8,218.7 370.8,218.2 370.8,219.0 370.8,217.7 370.9,217.0 370.9,216.5 370.9,215.8 371.0,215.4 371.0,214.0 371.0,212.9 371.1,212.3 371.1,211.6 371.1,211.7 371.1,210.7 371.2,210.0 371.2,210.2 371.2,210.5 371.3,209.4 371.3,207.9 371.3,208.3 371.3,206.5 371.4,205.8 371.4,205.6 371.4,205.2 371.5,205.2 371.5,204.1 371.5,204.0 371.6,202.2 371.6,203.2 371.6,201.4 371.6,201.8 371.7,199.6 371.7,200.6 371.7,198.8 371.8,199.5 371.8,198.8 371.8,197.9 371.9,196.5 371.9,195.4 371.9,195.1 371.9,195.9 372.0,193.8 372.0,194.2 372.0,193.5 372.1,193.0 372.1,191.5 372.1,190.8 372.2,190.1 372.2,191.3 372.2,189.5 372.2,189.4 372.3,188.6 372.3,187.3 372.3,187.6 372.4,188.2 372.4,190.4 372.5,189.6 372.5,191.9 372.5,191.3 372.6,192.6 372.6,192.1 372.7,194.0 372.7,193.5 372.7,194.4 372.8,195.3 372.8,195.1 372.9,196.0 372.9,197.7 372.9,197.3 373.0,198.1 373.0,199.5 373.1,199.0 373.1,199.6 373.2,200.2 373.2,201.2 373.2,201.7 373.3,202.9 373.3,203.2 373.4,204.6 373.4,203.6 373.4,205.4 373.5,206.4 373.5,205.8 373.6,206.0 373.6,207.4 373.6,207.4 373.7,208.7 373.7,209.8 373.8,209.2 373.8,209.8 374.1,211.2 374.4,211.1 374.8,211.9 375.1,212.9 375.4,212.8 375.4,212.1 375.5,212.1 375.5,211.7 375.6,212.0 375.6,210.7 375.7,209.1 375.7,208.8 375.8,209.2 375.8,208.3 375.9,208.3 375.9,207.9 376.0,207.0 376.0,204.9 376.1,206.0 376.1,204.5 376.2,204.6 376.4,205.1 376.5,207.1 376.7,206.4 376.8,206.8 377.0,207.7 377.1,209.7 377.2,209.4 377.4,210.5 377.5,209.8 377.7,211.2 377.8,211.6 378.0,212.0 378.1,213.5 378.3,213.5 378.4,213.6 378.5,214.8 378.5,213.1 378.6,211.9 378.6,211.0 378.7,211.6 378.7,210.8 378.8,209.2 378.9,209.4 378.9,209.4 379.0,208.4 379.0,207.1 379.1,207.1 379.1,206.7 379.2,206.1 379.3,204.5 379.3,205.2 379.4,204.9 379.4,203.9 379.5,203.5 379.6,201.9 379.6,202.4 379.7,200.3 379.7,199.8 379.8,199.9 379.8,199.9 379.9,197.7 380.1,198.5 380.3,198.7 380.4,200.1 380.6,200.1 380.8,200.8 381.0,202.5 381.1,202.8 381.3,204.1 381.5,203.6 381.7,204.7 381.8,204.0 382.0,206.4 382.2,205.6 382.7,205.5 383.2,205.1 383.7,205.4 383.9,205.1 384.2,206.7 384.4,206.5 384.6,206.3 384.9,208.1 385.1,207.4 385.3,209.6 385.5,209.1 385.8,209.2 386.0,211.3 386.2,210.6 386.5,211.3 386.7,211.8 386.7,213.1 386.8,212.4 386.8,213.7 386.9,213.9 386.9,215.9 387.0,214.8 387.0,216.7 387.1,216.6 387.1,217.6 387.2,218.5 387.2,219.4 387.3,218.9 387.3,219.7 387.4,220.1 387.4,222.4 387.5,221.4 387.5,222.0 387.6,222.1 387.7,221.7 387.8,221.7 387.9,219.4 387.9,219.1 388.0,218.4 388.1,218.6 388.2,217.8 388.3,217.1 388.4,217.4 388.5,216.4 388.6,216.2 388.6,215.8 388.7,213.8 388.8,214.5 388.9,212.9 389.0,211.5 389.1,212.7 389.2,210.4 389.3,209.7 389.3,209.6 389.4,209.0 389.5,209.7 389.6,208.9 389.7,207.4 389.8,207.0 389.9,207.1 390.0,206.4 390.1,205.4 390.2,204.5 390.3,203.1 390.4,202.8 390.5,203.0 390.6,202.2 390.7,202.0 390.9,201.6 391.0,201.1 391.1,198.9 391.2,198.1 391.3,199.1 391.4,197.8 391.5,196.5 391.6,196.9 391.7,195.4 391.8,194.7 391.9,194.4 392.0,194.0 392.3,194.9 392.6,194.3 392.9,196.2 393.1,196.5 393.4,196.8 393.7,197.7 394.0,198.5 394.3,197.5 394.5,197.9 394.7,197.7 395.0,197.1 395.2,196.4 395.4,194.9 395.6,195.8 395.8,194.9 396.1,193.2 396.3,193.0 396.5,193.4 396.7,191.3 396.9,191.1 397.2,191.6 397.4,190.9 397.6,189.0 397.9,189.4 398.1,188.0 398.3,188.0 398.6,188.8 399.0,188.0 399.3,188.8 399.6,189.3 399.9,189.9 400.3,190.0 400.6,190.8 400.7,191.9 400.7,192.6 400.8,192.5 400.8,194.1 400.9,195.4 400.9,195.3 400.9,195.5 401.0,196.8 401.1,196.9 401.1,196.9 401.2,198.2 401.2,197.8 401.2,199.8 401.3,199.4 401.4,200.4 401.4,202.2 401.4,202.4 401.5,203.1 401.6,203.4 401.6,204.0 401.6,204.7 401.7,205.8 401.8,204.9 401.8,206.7 401.9,206.3 401.9,206.9 401.9,208.6 402.0,208.8 402.1,209.9 402.1,210.5 402.1,210.6 402.2,210.4 402.2,209.4 402.3,209.9 402.3,209.6 402.4,208.1 402.4,207.1 402.5,206.4 402.5,206.1 402.6,206.5 402.6,204.6 402.7,204.4 402.7,203.9 402.8,204.1 402.8,204.1 402.9,201.5 402.9,201.1 402.9,202.2 403.0,201.6 403.0,199.4 403.1,199.1 403.1,198.9 403.2,197.9 403.2,197.5 403.3,197.0 403.3,196.0 403.4,195.0 403.4,194.4 403.5,194.0 403.5,193.2 403.6,193.7 403.6,193.2 403.7,191.7 403.7,192.2 403.7,191.4 403.8,190.1 403.8,189.8 403.9,188.5 403.9,189.4 404.0,188.1 404.0,186.5 404.1,186.1 404.1,186.5 404.2,185.3 404.2,185.4 404.3,183.8 404.3,184.3 404.4,183.7 404.4,181.7 404.5,182.1 404.5,180.6 404.6,181.1 404.6,180.6 404.7,180.0 404.7,178.3 404.8,177.4 404.8,177.9 404.9,177.1 405.0,175.6 405.0,175.1 405.1,175.2 405.1,173.7 405.2,174.1 405.2,172.7 405.3,172.1 405.3,171.8 405.4,171.4 405.5,171.2 405.5,169.2 405.6,170.0 405.6,168.3 405.7,167.9 405.7,167.9 405.8,167.4 405.8,166.6 405.9,166.6 406.1,164.6 406.3,164.2 406.5,164.3 406.7,162.9 406.9,162.1 407.0,161.7 407.2,162.1 407.4,161.7 407.6,160.8 407.8,160.7 407.8,159.8 407.9,158.2 407.9,157.6 408.0,157.8 408.0,155.9 408.1,156.4 408.1,154.8 408.2,154.1 408.2,154.4 408.3,153.1 408.3,154.1 408.4,153.4 408.4,151.9 408.5,150.8 408.5,150.0 408.6,150.2 408.6,149.6 408.6,148.7 408.7,148.8 408.7,147.9 408.8,147.8 408.8,145.8 408.9,145.1 408.9,145.2 409.0,144.8 409.0,143.7 409.1,143.9 409.1,142.4 409.2,142.0 409.2,141.8 409.3,141.6 409.3,141.1 409.4,139.7 409.4,139.3 409.5,140.9 409.5,141.5 409.6,141.5 409.7,141.0 409.7,142.3 409.8,143.3 409.9,143.2 410.0,143.3 410.0,145.8 410.1,146.3 410.2,145.3 410.2,146.6 410.3,147.5 410.4,147.5 410.4,147.7 410.5,149.6 410.6,150.3 410.6,150.2 410.7,150.1 410.8,151.3 410.9,151.3 410.9,153.7 411.0,152.5 411.1,153.6 411.1,155.1 411.2,154.5 411.2,155.0 411.3,155.6 411.3,156.4 411.3,157.7 411.3,158.9 411.4,158.2 411.4,158.8 411.4,160.6 411.5,160.5 411.5,161.0 411.5,161.2 411.5,162.0 411.6,164.1 411.6,163.0 411.6,163.9 411.7,165.4 411.7,166.3 411.7,167.0 411.7,166.7 411.8,168.3 411.8,168.2 411.8,167.0 411.9,166.7 411.9,166.6 411.9,166.0 412.0,164.2 412.0,163.7 412.1,164.7 412.1,162.4 412.1,163.2 412.2,161.6 412.2,160.8 412.2,160.2 412.3,160.1 412.3,160.5 412.4,158.2 412.4,159.0 412.4,158.6 412.4,158.9 412.5,160.6 412.5,160.5 412.5,160.8 412.5,161.8 412.6,163.3 412.6,164.0 412.6,164.0 412.6,163.5 412.6,165.6 412.7,165.9 412.7,167.1 412.7,167.9 412.7,167.2 412.8,168.9 412.8,169.5 412.8,169.0 412.8,169.8 412.8,170.4 412.9,171.0 412.9,171.7 412.9,171.7 412.9,172.6 413.0,174.6 413.0,174.2 413.0,175.3 413.1,175.2 413.1,174.3 413.2,172.6 413.2,173.3 413.3,172.5 413.3,172.2 413.4,171.1 413.4,170.5 413.5,170.0 413.5,168.3 413.6,168.5 413.7,167.3 413.7,167.6 413.8,165.5 413.8,165.7 413.9,164.7 413.9,165.1 414.0,163.5 414.0,163.9 414.1,163.2 414.1,162.7 414.2,160.6 414.2,162.8 414.2,163.0 414.3,163.5 414.3,164.0 414.3,163.4 414.3,165.7 414.3,165.6 414.4,166.0 414.4,166.4 414.4,167.9 414.4,168.5 414.4,169.3 414.5,168.6 414.5,169.4 414.5,169.8 414.5,170.2 414.5,171.2 414.5,171.2 414.6,173.4 414.6,172.8 414.6,173.1 414.6,173.7 414.6,175.7 414.7,175.2 414.7,176.3 414.7,176.8 414.7,178.2 414.7,179.1 414.8,178.4 414.8,179.7 414.8,180.8 414.9,179.3 414.9,179.6 415.0,178.6 415.0,177.2 415.1,177.7 415.1,176.5 415.2,174.9 415.2,175.3 415.3,175.1 415.3,173.9 415.4,173.2 415.4,172.4 415.5,172.8 415.5,172.9 415.6,172.6 415.6,173.6 415.6,174.2 415.7,176.0 415.7,176.0 415.7,175.5 415.7,177.7 415.8,176.5 415.8,178.3 415.8,178.6 415.9,179.7 415.9,179.8 415.9,179.7 416.0,181.2 416.0,182.4 416.0,182.9 416.0,182.7 416.1,183.0 416.1,184.7 416.1,185.4 416.2,184.8 416.2,186.8 416.7,187.5 417.2,186.9 417.8,186.4 418.4,186.7 418.9,186.7 419.5,184.9 419.6,185.7 419.8,186.4 419.9,187.8 420.0,187.3 420.2,188.7 420.3,189.2 420.5,190.2 420.6,189.7 420.7,192.0 420.9,192.7 421.0,192.4 421.2,193.5 421.3,192.9 421.5,194.9 421.5,194.8 421.6,195.8 421.6,196.7 421.6,196.3 421.6,198.0 421.7,197.2 421.7,197.4 421.7,199.0 421.8,200.4 421.8,201.0 421.8,201.7 421.8,201.4 421.9,202.9 421.9,202.8 421.9,202.5 422.0,204.1 422.0,205.1 422.0,204.9 422.0,205.9 422.1,205.8 422.1,206.5 422.1,207.4 422.2,208.1 422.2,208.7 422.2,208.5 422.2,209.0 422.3,210.2 422.3,211.6 422.3,212.3 422.4,211.9 422.4,212.5 422.4,213.6 422.5,213.6 422.5,215.0 422.5,216.2 422.5,215.5 422.6,216.8 422.6,217.7 422.6,218.4 422.7,218.9 422.7,219.5 422.7,219.2 422.7,221.0 422.8,221.8 422.8,220.6 422.8,223.0 422.9,222.6 422.9,222.5 422.9,223.1 422.9,225.2 423.0,225.5 423.0,225.1 423.0,225.1 423.1,224.9 423.1,225.0 423.2,223.1 423.2,223.3 423.3,221.7 423.3,221.0 423.3,220.3 423.4,220.2 423.4,220.0 423.5,218.8 423.5,217.9 423.6,217.4 423.6,216.5 423.6,216.1 423.7,215.8 423.7,215.6 423.8,214.3 423.8,214.3 423.9,213.6 423.9,214.1 423.9,212.5 424.0,212.8 424.0,211.3 424.1,210.1 424.1,210.3 424.2,208.8 424.2,208.3 424.2,207.5 424.3,208.1 424.3,208.0 424.4,206.3 424.4,205.6 424.5,205.2 424.5,204.4 424.5,205.7 424.6,205.7 424.6,205.8 424.7,207.8 424.7,207.9 424.8,207.3 424.8,209.6 424.9,210.0 424.9,209.8 425.0,211.0 425.0,212.2 425.1,211.7 425.1,212.4 425.2,212.7 425.2,213.8 425.3,214.7 425.3,215.4 425.4,216.4 425.4,215.4 425.5,216.5 425.5,218.0 425.6,218.5 425.6,218.7 425.7,219.5 425.7,219.4 425.8,221.2 425.8,221.0 425.9,221.3 425.9,221.5 426.0,222.0 426.0,224.1 426.1,224.6 426.1,223.6 426.1,224.8 426.2,225.7 426.2,226.3 426.3,226.7 426.3,228.3 426.4,227.9 426.4,228.8 426.5,230.2 426.5,230.2 426.6,230.5 426.6,230.8 426.7,231.5 426.7,232.6 426.8,233.5 426.8,233.1 426.9,233.9 426.9,234.6 427.0,235.1 427.0,236.8 427.1,236.7 427.1,236.7 427.2,237.5 427.2,239.0 427.3,238.3 427.3,240.0 427.4,239.2 427.4,240.2 427.5,240.5 427.5,242.6 427.6,241.9 427.6,242.7 427.6,241.7 427.7,241.5 427.7,241.9 427.8,241.2 427.8,241.0 427.8,240.5 427.9,239.1 427.9,239.2 427.9,237.0 428.0,238.1 428.0,236.5 428.1,235.4 428.1,235.9 428.1,235.5 428.2,234.0 428.2,232.8 428.3,233.7 428.3,232.9 428.3,232.0 428.4,232.2 428.4,229.7 428.4,229.1 428.5,228.6 428.5,227.8 428.6,228.6 428.6,227.9 428.6,226.2 428.7,225.7 428.7,225.2 428.8,225.4 428.8,224.9 428.8,224.9 428.9,223.1 428.9,223.8 428.9,222.1 429.0,221.4 429.0,220.5 429.1,219.9 429.1,220.7 429.2,221.4 429.3,221.5 429.4,221.0 429.5,221.7 429.5,222.2 429.6,223.2 429.7,224.6 429.8,223.9 429.9,225.5 430.0,226.4 430.1,225.7 430.2,227.2 430.2,228.5 430.3,228.7 430.4,229.1 430.5,230.5 430.6,230.6 430.8,229.5 430.9,229.0 431.1,229.5 431.2,228.7 431.4,228.2 431.5,226.9 431.7,225.5 431.9,225.0 432.0,224.8 432.2,224.8 432.3,222.8 432.5,223.8 432.7,223.2 432.8,222.0 433.0,220.4 433.1,221.4 433.3,220.0 433.4,219.9 433.6,219.1 433.8,220.0 433.9,220.0 434.1,221.7 434.3,222.3 434.4,222.8 434.6,222.8 434.8,222.8 434.9,223.5 435.1,223.9 435.2,225.7 435.4,226.1 435.6,226.7 435.7,227.3 435.9,228.3 436.0,228.3 436.1,228.2 436.2,229.7 436.3,229.3 436.4,230.6 436.5,230.3 436.6,232.3 436.7,232.2 436.8,232.4 436.9,234.3 437.0,233.3 437.1,235.6 437.2,235.9 437.3,235.3 437.4,237.1 437.5,237.3 437.6,238.6 437.7,238.6 437.8,238.9 437.9,240.5 438.0,239.5 438.1,241.5 438.1,239.5 438.2,239.2 438.2,238.3 438.2,239.2 438.3,237.7 438.3,237.7 438.3,236.1 438.3,236.5 438.4,235.7 438.4,234.0 438.4,234.2 438.5,234.0 438.5,232.4 438.5,232.7 438.6,231.3 438.6,230.9 438.6,231.4 438.7,230.8 438.7,230.3 438.7,228.6 438.7,228.2 438.8,228.1 438.8,227.4 438.8,226.2 438.9,226.4 438.9,224.9 438.9,225.3 439.0,223.8 439.0,222.5 439.0,223.1 439.1,221.3 439.1,221.8 439.1,219.9 439.1,221.1 439.2,219.6 439.2,219.4 439.2,217.6 439.3,218.0 439.3,216.9 439.3,216.0 439.4,216.5 439.4,214.4 439.4,214.6 439.5,213.3 439.5,214.2 439.5,213.6 439.5,211.3 439.6,211.6 439.6,211.0 439.6,210.9 439.7,210.3 439.7,208.9 439.8,209.5 439.9,207.3 440.0,206.6 440.1,207.4 440.2,205.4 440.3,204.9 440.4,204.9 440.4,204.0 440.5,203.0 440.6,203.9 440.7,202.4 440.8,202.4 440.9,200.7 441.0,201.5 441.1,199.5 441.2,200.2 441.9,199.9 442.7,200.8 443.4,200.6 443.4,201.0 443.5,201.4 443.5,202.6 443.5,202.4 443.5,202.3 443.6,204.5 443.6,204.9 443.6,205.3 443.6,206.0 443.7,205.6 443.7,206.6 443.7,207.9 443.8,208.8 443.8,209.3 443.8,208.4 443.8,210.1 443.9,210.4 443.9,210.7 443.9,210.8 444.0,211.4 444.0,212.6 444.0,213.3 444.0,213.4 444.1,214.2 444.1,215.2 444.1,216.2 444.1,216.5 444.2,216.2 444.2,218.3 444.3,216.6 444.4,217.2 444.5,216.6 444.6,214.3 444.6,214.5 444.7,214.7 444.8,212.9 444.9,212.6 445.0,211.5 445.1,210.3 445.2,210.1 445.3,209.3 445.3,209.0 445.4,209.0 445.5,208.3 445.6,208.4 445.7,207.3 446.0,207.2 446.3,208.9 446.6,208.9 446.9,209.3 447.1,210.5 447.4,210.7 447.7,210.6 448.0,211.7 448.0,211.7 448.1,213.7 448.1,212.8 448.2,214.9 448.2,213.7 448.3,214.2 448.3,215.9 448.4,215.8 448.4,217.0 448.5,216.8 448.5,218.8 448.6,219.1 448.6,219.8 448.7,220.8 448.7,221.6 448.8,221.6 448.8,222.2 448.9,221.4 448.9,222.1 449.0,223.5 449.0,225.2 449.1,224.5 449.1,225.6 449.1,225.1 449.2,226.5 449.2,228.1 449.3,228.1 449.3,229.1 449.4,228.1 449.4,229.1 449.5,229.7 449.5,231.6 449.6,230.7 449.6,233.0 449.7,232.3 449.7,234.1 449.8,234.0 449.8,234.2 449.9,236.1 449.9,235.6 450.0,236.8 450.0,236.1 450.1,238.2 450.1,239.1 450.2,238.0 450.2,239.9 450.2,238.3 450.3,237.5 450.3,237.3 450.4,237.3 450.4,237.3 450.5,236.7 450.5,236.1 450.6,234.8 450.6,234.2 450.6,232.6 450.7,233.2 450.7,232.2 450.8,231.2 450.8,231.7 450.9,229.8 450.9,228.9 451.0,228.4 451.0,227.7 451.0,228.0 451.1,227.8 451.1,225.9 451.2,226.0 451.2,225.6 451.3,224.9 451.3,224.0 451.4,223.7 451.4,222.0 451.4,221.5 451.5,221.6 451.5,220.6 451.6,221.1 451.6,219.4 451.7,220.0 451.7,218.2 451.8,217.3 451.8,217.5 452.1,217.8 452.4,218.2 452.7,219.6 453.0,219.1 453.3,220.5 453.6,221.3 453.9,221.1 454.2,221.7 454.5,223.1 454.8,223.0 454.9,222.8 455.0,223.2 455.1,223.8 455.2,224.9 455.3,225.0 455.4,226.8 455.5,226.9 455.6,227.3 455.7,228.4 455.8,229.8 456.0,229.0 456.1,229.5 456.2,230.4 456.3,231.0 456.4,232.8 456.5,233.0 456.6,233.1 456.7,233.2 456.8,233.6 456.9,234.3 457.0,236.4 457.2,236.6 457.3,236.2 457.5,237.7 457.6,237.2 457.8,238.7 457.9,238.9 458.1,239.1 458.3,241.0 458.4,241.5 458.6,241.7 458.7,241.6 458.9,243.2 459.1,243.3 459.2,244.4 459.4,243.8 459.5,246.0 459.7,244.8 459.9,245.9 460.0,246.8 460.2,247.0 460.3,247.4 460.5,249.2 460.6,250.4 460.8,249.7 461.0,248.9 461.1,249.1 461.3,247.6 461.4,247.4 461.6,247.3 461.7,246.2 461.9,245.1 462.0,244.3 462.2,244.6 462.3,244.9 462.5,244.2 462.6,241.9 462.8,242.1 462.9,241.5 463.1,240.3 463.2,240.6 463.4,239.7 463.5,239.7 463.6,238.0 463.8,238.7 463.9,237.8 464.0,236.5 464.2,235.2 464.3,235.3 464.5,234.0 464.6,234.5 464.7,233.9 464.9,233.0 465.0,233.2 465.1,230.7 465.3,231.4 465.4,231.0 465.7,230.1 466.1,231.0 466.4,231.0 466.7,232.6 467.1,233.3 467.4,233.1 467.7,234.3 468.1,234.1 468.4,235.3 468.5,235.0 468.6,237.0 468.8,236.5 468.9,236.3 469.0,237.0 469.1,238.9 469.3,239.8 469.4,239.9 469.5,239.5 469.6,241.5 469.7,241.8 469.9,241.2 470.0,242.3 470.1,243.5 470.2,242.7 470.4,243.4 470.5,244.6 470.6,246.2 470.7,247.1 470.9,246.3 471.0,248.1 471.1,248.4 471.2,249.2 471.4,249.2 471.5,250.6 471.6,250.5 471.8,251.7 471.9,251.5 472.0,251.4 472.1,252.6 472.3,253.1 472.4,253.4 472.5,254.1 472.6,254.9 472.8,255.7 472.9,255.5 473.2,255.1 473.5,255.0 473.8,254.4 474.0,253.6 474.3,253.6 474.6,252.0 474.9,252.1 475.2,251.1 475.5,252.6 475.7,253.0 476.0,253.7 476.3,253.8 476.6,253.8 476.8,255.7 477.1,255.4 477.4,255.7 477.7,256.1 477.9,256.8 478.2,258.0 478.3,258.8 478.3,258.8 478.4,259.9 478.4,259.4 478.5,260.5 478.6,260.9 478.6,261.4 478.7,262.1 478.7,263.5 478.8,264.1 478.9,263.6 478.9,264.3 479.0,266.0 479.0,266.3 479.1,267.0 479.1,267.5 479.2,268.2 479.3,267.9 479.3,268.1 479.4,269.3 479.4,269.3 479.5,271.7 479.6,270.2 479.7,269.9 479.8,269.9 479.9,268.9 479.9,267.1 480.0,266.7 480.1,265.7 480.2,266.4 480.3,265.7 480.4,264.5 480.5,263.7 480.6,262.9 480.6,262.7 480.7,262.5 480.8,262.2 480.9,261.5 481.0,260.9 481.2,260.6 481.5,261.2 481.7,261.5 481.9,263.4 482.2,262.4 482.4,262.9 482.7,263.7 482.9,265.6 483.1,266.0 483.4,265.6 483.6,267.2 483.9,267.8 484.1,267.4 484.3,267.5 484.6,269.3 484.8,269.0 485.0,269.1 485.2,271.3 485.5,270.9 485.7,271.4 485.9,272.4 486.1,272.3 486.4,272.4 486.6,273.7 486.8,274.2 487.0,274.1 487.3,275.4 487.5,276.7 487.7,276.5 487.9,277.7 488.2,278.2 488.4,277.9 488.6,278.1 488.7,278.8 488.8,278.1 488.9,276.8 488.9,276.0 489.0,276.7 489.1,276.2 489.2,274.2 489.3,274.2 489.4,273.6 489.4,272.5 489.5,271.3 489.6,271.2 489.7,271.2 489.8,270.5 489.9,269.7 489.9,268.3 490.0,267.9 490.1,267.4 490.5,268.1 490.9,268.5 491.2,270.1 491.6,269.0 492.0,271.3 492.4,270.3 492.5,270.9 492.6,269.1 492.7,269.1 492.8,268.1 492.9,266.8 493.0,267.7 493.1,267.1 493.2,265.4 493.3,265.8 493.4,264.6 493.5,265.0 493.7,262.5 493.8,262.5 493.9,261.6 494.0,261.8 494.1,261.5 494.2,261.0 494.3,259.8 494.4,258.8 494.5,259.0 494.6,257.0 494.7,256.7 494.8,258.3 494.9,258.3 495.0,260.0 495.1,258.8 495.2,260.2 495.3,260.3 495.4,260.5 495.5,261.2 495.6,261.8 495.7,263.0 495.8,263.7 495.9,264.5 496.0,264.7 496.1,266.1 496.2,266.3 496.3,267.9 496.3,266.9 496.4,268.1 496.5,268.7 496.6,269.1 496.6,270.7 496.7,270.0 496.8,271.9 496.8,271.5 496.9,272.1 497.0,273.2 497.1,273.7 497.1,273.8 497.2,274.0 497.3,276.4 497.3,275.8 497.4,275.9 497.5,277.6 497.6,277.9 497.6,278.1 497.7,278.8 498.0,279.2 498.2,277.6 498.5,277.2 498.7,277.7 499.0,275.9 499.2,275.4 499.5,274.3 499.7,274.7 500.0,274.1 500.2,273.1 500.5,272.5 500.7,271.5 501.0,272.1 501.2,270.8 501.5,271.0 501.7,269.5 502.0,269.6 502.2,267.7 502.6,267.5 503.0,268.5 503.4,267.4 503.7,266.9 504.1,266.0 504.5,265.4 504.9,264.4 505.3,263.8 505.8,264.3 506.2,263.9 506.6,262.5 507.0,262.8 507.5,261.3 507.9,261.7 508.3,260.3 508.5,261.6 508.7,261.8 509.0,262.8 509.2,262.6 509.4,263.8 509.6,264.7 509.8,264.3 510.0,265.2 510.3,266.5 510.5,266.9 510.7,267.6 510.9,268.5 511.1,268.6 511.3,268.5 511.6,269.5 511.8,270.9 512.0,270.9 512.6,271.0 513.2,269.9 513.9,269.8 514.5,270.5 515.1,269.9 515.3,269.0 515.6,267.4 515.8,267.8 516.0,266.1 516.3,267.3 516.5,266.8 516.7,265.7 516.9,264.2 517.2,264.8 517.4,262.9 517.6,263.6 517.9,262.4 518.1,260.8 518.3,263.2 518.4,262.9 518.6,264.2 518.8,264.5 518.9,264.8 519.1,266.1 519.2,265.4 519.4,267.3 519.6,266.8 519.7,266.8 519.9,268.0 520.1,268.0 520.2,268.7 520.4,270.3 520.5,268.7 520.6,268.2 520.7,267.9 520.9,267.3 521.0,267.9 521.1,267.3 521.2,266.6 521.3,266.3 521.4,264.6 521.6,264.7 521.7,263.1 521.8,263.8 521.9,262.9 522.0,262.2 522.1,260.6 522.3,259.7 522.4,260.8 522.5,259.4 522.6,258.9 523.0,258.9 523.3,256.9 523.6,257.4 524.0,256.4 524.1,257.7 524.3,257.6 524.4,257.7 524.6,259.8 524.7,259.1 524.9,260.6 525.0,261.4 525.2,260.8 525.3,262.3 525.5,262.3 525.6,262.5 525.8,263.1 525.9,265.2 526.1,264.6 526.2,265.5 526.3,264.9 526.3,263.3 526.4,264.2 526.4,263.6 526.5,263.2 526.5,261.6 526.6,260.7 526.7,260.3 526.7,260.5 526.8,259.7 526.8,258.6 526.9,258.3 526.9,256.9 527.0,257.8 527.5,256.5 528.0,256.2 528.6,256.3 529.1,254.7 529.5,256.3 530.0,256.2 530.4,257.6 530.8,256.8 530.9,256.5 531.1,256.6 531.2,255.7 531.4,254.9 531.5,254.7 531.6,253.3 531.8,253.2 531.9,251.7 532.1,252.6 532.2,250.9 532.4,251.5 532.5,250.3 532.9,251.0 533.4,251.6 533.8,251.2 534.2,253.1 534.3,251.5 534.4,252.0 534.5,251.3 534.6,250.5 534.7,250.1 534.8,248.8 534.9,248.6 535.0,248.6 535.2,246.5 535.3,245.7 535.4,245.7 535.5,245.3 535.6,244.0 535.7,243.5 535.8,244.2 535.9,242.7 536.3,241.6 536.8,241.1 537.2,241.3 537.6,240.0 537.7,239.9 537.8,239.5 537.9,238.7 537.9,238.2 538.0,238.2 538.1,236.0 538.2,237.2 538.3,235.1 538.4,234.2 538.4,235.1 538.5,234.1 538.6,233.4 538.7,232.1 539.1,232.8 539.5,231.5 540.0,231.9 540.4,230.5 540.6,230.5 540.8,230.0 541.0,228.8 541.2,228.4 541.5,226.9 541.7,227.5 541.9,226.9 542.1,225.2 542.3,225.4 542.4,225.2 542.6,223.3 542.8,224.1 542.9,223.6 543.1,221.4 543.2,221.1 543.4,220.2 543.6,219.9 543.7,219.0 543.9,219.2 544.1,218.1 544.2,217.6 544.4,217.3 544.6,217.8 544.8,219.3 545.0,219.8 545.2,219.2 545.5,220.0 545.7,220.2 545.9,221.5 546.1,221.7 546.2,223.5 546.3,224.3 546.4,225.3 546.5,224.4 546.6,224.7 546.7,226.7 546.8,226.7 546.9,228.3 547.0,227.8 547.1,228.3 547.2,228.4 547.3,230.8 547.5,230.5 547.6,231.0 547.7,231.6 547.9,232.9 548.0,233.6 548.1,233.5 548.2,233.5 548.4,234.6 548.5,236.2 548.6,235.8 548.8,236.9 548.9,237.3 549.2,236.6 549.5,236.2 549.8,235.0 550.0,235.1 550.3,235.1 550.6,233.0 550.9,233.0 551.2,233.5 551.3,233.0 551.4,230.5 551.5,231.1 551.6,230.5 551.7,230.3 551.8,228.9 551.9,227.6 552.0,227.4 552.1,227.6 552.2,227.0 552.3,225.3 552.3,225.6 552.4,225.0 552.5,224.4 552.6,222.5 552.7,222.7 552.8,221.9 552.9,221.8 553.0,220.6 553.1,219.6 553.2,220.1 553.3,218.7 553.4,219.1 553.4,218.7 553.4,219.8 553.5,220.9 553.5,220.2 553.5,222.0 553.5,221.3 553.5,223.6 553.6,222.4 553.6,224.4 553.6,224.3 553.6,224.5 553.6,225.6 553.7,226.4 553.7,226.8 553.7,226.8 553.7,228.3 553.8,228.4 553.8,230.4 553.8,229.8 553.8,230.5 553.8,230.7 553.9,232.8 553.9,232.1 553.9,233.4 553.9,234.3 553.9,234.1 554.0,235.4 554.0,235.1 554.0,235.3 554.0,235.8 554.0,237.2 554.0,238.7 554.0,238.0 554.0,239.1 554.0,240.3 554.0,240.0 554.0,240.4 554.0,241.7 554.0,242.1 554.0,243.8 554.0,244.3 554.0,243.6 554.0,244.9 554.0,245.2 554.0,245.1 554.0,246.5 554.0,248.1 554.0,247.5 554.0,248.6 554.0,249.5 554.0,248.8 554.6,250.8 555.1,249.5 555.7,250.1 555.7,251.5 555.7,250.7 555.7,252.1 555.7,252.2 555.7,253.5 555.7,253.2 555.7,254.0 555.7,254.8 555.7,255.1 555.7,255.7 555.7,256.5 555.7,257.8 555.7,257.6 555.7,259.6 555.7,259.4 555.7,259.7 555.7,260.2 555.7,262.0 555.7,261.1 555.7,263.1 555.7,262.4 555.7,264.7 555.7,264.2 555.7,265.2 555.7,266.3 555.7,265.4 555.7,265.9 555.7,267.8 555.7,268.2 555.7,269.1 555.7,268.8 555.7,269.8 555.7,269.8 555.7,270.9 555.7,271.2 555.7,272.4 555.7,272.4 555.7,273.0 555.7,274.3 555.7,273.8 555.8,275.9 555.8,275.8 555.8,275.9 555.8,276.3 555.8,277.7 555.8,278.3 555.8,279.3 555.8,279.2 555.8,279.9 555.8,281.5 555.8,280.8 555.8,282.9 555.8,283.3 555.8,284.1 555.8,284.6 555.8,283.8 555.8,285.5 555.8,285.7 555.8,285.5 555.8,287.7 555.8,287.6 555.8,288.5 555.8,288.6 555.8,288.3 555.8,290.5 555.8,289.7 555.8,290.5 555.8,291.8 555.8,291.5 555.8,292.7 555.8,293.8 555.8,293.2 555.8,294.9 555.8,294.4 555.8,295.7 555.8,296.7 555.8,297.4 555.8,296.7 555.8,297.6 555.8,299.7 555.8,299.2 555.8,299.8 555.8,300.4 555.8,301.6 555.8,302.3 555.8,302.7 555.8,302.8 555.8,303.8 555.8,304.3 555.8,304.2 555.8,306.3 555.8,307.0 555.8,307.2 555.8,308.2 555.8,307.8 555.8,309.1 555.8,308.5 555.8,310.1 555.8,310.7 555.8,311.7 555.8,312.1 555.8,312.8 555.8,312.2 555.8,313.8 555.8,313.8 555.8,314.1 555.8,314.8 555.8,316.3 555.8,317.0 555.8,317.6 555.8,317.8 555.8,317.4 555.8,318.0 555.8,319.4 555.8,319.3 555.8,320.2 555.8,320.3 555.8,321.0 555.8,322.7 555.8,322.4 555.8,324.2 555.8,323.8 555.8,325.4 555.8,324.9 555.8,325.5 555.8,326.3 555.8,326.2 555.8,327.6 555.8,328.1 555.8,328.0 555.8,330.3 555.8,329.9 555.8,329.7 555.8,332.3 555.8,331.4 555.8,332.1 555.8,332.2 555.8,333.0 555.8,334.8 555.8,335.1 555.8,335.6 555.8,335.7 555.8,336.3 555.8,338.3 555.8,337.7 555.8,339.6 555.8,340.0 555.8,339.0 555.8,341.1 555.8,340.0 555.8,342.0 555.8,342.8 555.8,343.2 555.8,343.5 555.8,344.6 555.8,343.9 555.8,345.3 555.8,345.3 555.8,346.2 555.8,346.4 555.8,348.0 555.8,348.4 555.8,349.4 555.8,349.7 555.8,350.2 555.8,351.5 555.8,351.9 555.8,352.0 555.8,352.1 555.8,353.9 555.8,353.4 555.8,353.5 555.8,354.5 555.8,355.9 555.8,356.9 555.8,357.0 555.8,357.6 555.8,358.7 555.8,359.0 555.8,359.0 555.8,359.6 555.8,360.8 555.8,360.5 555.8,360.7 555.8,362.3 555.8,363.3 555.8,362.8 555.8,364.3 555.8,365.3 555.8,363.1 555.8,362.5 555.8,362.6 555.8,361.7 555.8,362.3 555.9,361.8 555.9,360.1 555.9,360.2 555.9,359.3 555.9,357.7 555.9,358.7 555.9,356.5 555.9,355.7 555.9,355.8 556.0,354.3 556.0,354.7 556.0,353.9 556.0,354.4 556.0,352.7 556.0,352.9 556.0,352.2 556.0,351.2 556.0,349.9 556.0,349.4 556.0,349.2 556.1,348.4 556.1,348.3 556.1,347.4 556.1,346.4 556.1,346.3 556.1,346.5 556.1,344.3 556.1,344.0 556.1,342.7 556.2,342.3 556.2,341.6 556.2,341.7 556.2,341.9 556.2,341.0 556.2,340.9 556.2,340.1 556.2,338.9 556.3,338.3 556.3,336.6 556.3,336.7 556.3,335.9 556.3,336.0 556.4,334.2 556.4,334.6 556.4,333.6 556.4,333.3 556.4,332.5 556.4,331.2 556.5,331.9 556.5,331.4 556.5,330.4 556.5,328.8 556.5,329.2 556.6,329.1 556.6,328.7 556.6,327.7 556.6,325.6 556.6,326.7 556.7,325.6 556.7,324.3 556.7,324.9 556.7,324.1 556.7,323.7 556.8,321.7 556.8,321.8 556.8,320.8 556.8,320.0 556.8,320.3 556.8,319.4 556.9,318.2 556.9,318.1 556.9,318.2 556.9,316.9 556.9,317.0 557.0,315.7 557.0,315.9 557.0,313.4 557.2,313.6 557.3,313.2 557.5,312.9 557.6,312.7 557.8,311.4 558.0,310.5 558.1,310.2 558.3,309.4 558.4,309.1 558.6,308.9 558.7,306.5 558.9,306.4 559.0,306.9 559.0,304.7 559.1,305.5 559.2,303.3 559.2,303.9 559.3,303.6 559.4,301.8 559.4,301.5 559.5,300.6 559.6,300.9 559.6,299.9 559.7,299.4 559.8,298.2 559.9,298.2 560.0,298.3 560.1,297.3 560.2,297.1 560.3,295.1 560.4,295.0 560.5,294.1 560.6,293.4 560.7,293.7 560.8,291.9 560.9,292.0 561.0,291.9 561.1,291.6 561.2,289.1 561.6,290.1 561.9,291.1 562.3,292.5 562.7,291.4 563.0,293.3 563.4,292.9 563.8,293.7 564.2,295.0 564.5,293.8 564.9,294.8 565.3,295.0 565.7,295.5 565.9,295.2 566.1,295.4 566.2,294.6 566.4,293.1 566.6,293.9 566.8,292.7 566.9,291.4 567.1,292.2 567.3,291.6 567.5,289.8 567.6,290.7 567.8,289.8 568.0,288.1 568.2,287.0 568.3,288.2 568.5,287.5 568.7,285.5 569.3,287.2 569.9,287.6 570.4,287.8 571.0,288.6 571.1,289.5 571.2,288.7 571.3,290.4 571.4,291.1 571.5,290.5 571.6,291.8 571.7,292.4 571.8,293.4 571.9,293.4 572.1,293.4 572.2,293.9 572.3,295.1 572.4,294.9 572.5,296.9 572.6,297.6 572.7,296.9 572.8,298.4 572.9,299.0 573.0,298.4 573.2,299.1 573.4,298.5 573.5,297.0 573.7,296.0 573.9,295.7 574.1,296.1 574.3,294.9 574.4,295.0 574.6,293.0 574.8,292.3 575.1,292.2 575.3,292.7 575.6,290.7 575.9,290.0 576.2,290.8 576.5,288.9 576.7,289.5 577.0,287.8 577.0,287.4 577.1,287.6 577.1,287.4 577.1,285.8 577.1,285.3 577.2,283.8 577.2,283.8 577.2,282.9 577.2,283.4 577.3,282.6 577.3,282.1 577.4,281.0 577.5,280.7 577.6,278.9 577.7,278.9 577.8,278.1 577.9,277.4 578.0,277.7 578.1,276.1 578.2,275.7 578.3,275.0 578.4,275.6 578.5,274.5 578.6,273.6 578.7,272.8 578.8,273.3 578.9,272.7 579.0,271.1 579.1,270.8 579.2,270.7 579.3,268.9 579.4,268.3 579.5,267.4 579.6,267.6 579.7,267.5 579.8,265.7 579.9,265.7 580.1,266.2 580.2,264.6 580.3,263.8 580.4,264.1 580.5,263.6 580.6,262.0 580.8,260.8 580.9,261.3 581.0,260.9 581.2,260.6 581.5,259.5 581.8,258.1 582.0,257.9 582.2,256.9 582.4,256.6 582.5,256.0 582.7,256.3 582.9,255.7 583.0,255.2 583.2,253.7 583.4,254.0 583.6,251.8 583.8,252.7 583.9,251.6 584.1,251.4 584.3,249.9 584.4,250.5 584.6,248.0 584.8,249.0 585.0,248.3 585.3,246.8 585.5,247.1 585.8,245.2 586.0,245.6 586.3,244.4 586.4,244.9 586.6,245.1 586.7,247.0 586.9,247.4 587.0,246.8 587.2,249.2 587.3,248.3 587.5,249.2 587.6,249.9 587.8,250.8 587.9,252.1 588.0,251.6 588.1,250.3 588.1,249.2 588.2,248.1 588.3,247.4 588.4,247.6 588.5,247.2 588.6,246.3 588.6,246.7 588.7,245.0 588.8,244.2 588.9,243.8 589.0,242.7 589.0,243.6 589.1,242.3 589.2,241.5 589.3,240.7 589.4,239.7 589.4,239.2 589.5,239.0 589.6,238.3 589.7,238.7 589.8,237.3 589.9,236.0 589.9,235.0 590.0,234.6 590.1,234.4 590.4,234.7 590.7,234.3 591.0,232.4 591.2,233.0 591.5,231.7 591.8,231.3 592.1,230.7 592.4,229.2 592.6,229.8 592.9,231.6 593.1,232.2 593.4,232.2 593.6,233.8 593.9,234.2 594.1,233.7 594.4,233.8 594.6,234.2 594.9,233.9 595.1,232.4 595.3,231.5 595.5,231.8 595.8,230.3 596.0,231.1 596.2,230.4 596.3,230.3 596.4,231.2 596.4,231.4 596.5,231.9 596.6,232.5 596.7,234.4 596.7,234.2 596.8,235.4 596.9,235.2 597.0,236.8 597.0,236.9 597.1,237.7 597.2,237.8 597.2,238.7 597.3,238.6 597.4,240.7 597.5,240.7 597.6,241.1 597.6,241.9 597.7,241.4 597.8,242.5 597.8,242.9 597.9,244.7 598.0,243.7 598.1,245.2 598.1,246.6 598.2,247.1 598.3,247.6 598.3,247.3 598.4,247.8 598.5,249.4 598.6,249.2 598.6,250.6 598.7,250.5 598.8,251.9 598.8,252.2 598.9,253.3 599.0,254.2 599.1,253.6 599.1,255.5 599.2,254.1 599.4,255.3 599.5,253.0 599.7,253.4 599.9,252.5 600.0,252.7 600.2,251.2 600.4,250.4 600.5,250.9 600.7,249.9 600.8,249.7 601.0,248.6 601.2,247.1 601.3,247.9 601.5,246.2 601.7,247.3 601.8,247.0 602.0,248.1 602.2,249.4 602.3,250.2 602.5,250.5 602.7,250.7 602.8,251.9 603.0,252.3 603.4,250.9 603.7,251.1 604.1,250.7 604.5,250.5 604.8,248.9 605.2,248.6 605.3,249.3 605.3,249.4 605.4,250.5 605.4,251.9 605.5,252.2 605.6,252.0 605.6,253.7 605.7,253.1 605.7,254.9 605.8,254.3 605.8,254.8 605.9,255.7 606.0,256.9 606.0,257.0 606.1,258.8 606.1,259.5 606.2,258.8 606.3,260.3 606.3,260.8 606.4,261.2 606.4,261.2 606.5,263.2 606.6,263.8 606.6,262.5 606.7,263.7 606.7,264.3 606.8,264.7 606.9,265.7 606.9,267.3 607.0,266.1 607.0,268.4 607.1,267.9 607.1,267.9 607.2,270.3 607.3,269.6 607.3,270.1 607.4,270.5 607.4,271.6 607.5,271.7 607.6,271.3 607.8,270.8 607.9,270.9 608.0,270.0 608.2,269.2 608.3,269.0 608.5,268.9 608.6,268.2 608.7,266.9 608.9,267.4 609.0,266.6 609.1,266.7 609.2,267.2 609.3,267.5 609.4,267.7 609.5,269.8 609.6,269.8 609.7,269.4 609.8,271.7 609.9,272.2 610.0,271.1 610.1,273.1 610.3,272.7 610.4,273.9 610.5,275.1 610.6,274.8 610.7,275.7 610.8,276.6 610.9,276.3 611.0,277.7 611.1,277.9 611.2,279.7 611.3,278.7 611.4,279.1 611.4,277.2 611.5,277.0 611.6,276.1 611.7,275.5 611.7,275.7 611.8,274.4 611.9,275.0 612.0,273.0 612.0,273.4 612.1,273.3 612.2,271.2 612.3,270.8 612.3,271.3 612.4,270.1 612.5,270.4 612.6,268.6 612.6,268.1 612.7,268.6 612.8,266.8 612.9,267.4 612.9,266.7 613.0,264.7 613.1,264.8 613.2,264.9 613.2,262.7 613.3,263.5 613.4,262.8 613.5,262.1 613.5,261.2 613.6,259.6 613.8,261.9 614.0,260.8 614.2,262.8 614.4,263.3 614.7,263.1 614.9,264.5 615.1,264.6 615.3,265.9 615.5,265.1 615.9,266.4 616.4,264.9 616.8,265.3 617.2,264.2 617.7,264.5 618.1,263.0 618.2,264.1 618.3,263.7 618.4,265.2 618.5,265.1 618.5,267.2 618.6,267.5 618.7,267.6 618.8,269.3 618.9,269.9 619.0,270.5 619.1,269.4 619.2,271.3 619.2,272.0 619.3,272.3 619.4,271.8 619.5,274.2 619.6,273.9 619.7,273.6 619.8,273.4 619.9,271.7 620.1,270.6 620.2,271.8 620.3,269.9 620.4,268.8 620.5,268.4 620.6,269.5 620.8,268.4 620.9,266.8 621.0,266.0 621.1,266.9 621.2,265.9 621.3,265.1 621.4,263.6 621.6,263.5 621.7,264.0 621.8,261.5 621.9,261.7 622.3,260.5 622.6,261.9 623.0,259.6 623.4,260.7 623.7,260.0 624.1,259.3 624.2,258.5 624.3,260.4 624.4,260.6 624.5,261.2 624.6,261.1 624.7,262.5 624.7,263.7 624.8,262.9 624.9,265.0 625.0,264.7 625.1,265.0 625.2,265.6 625.3,266.6 625.4,267.6 625.5,268.1 625.6,269.3 625.7,269.2 625.8,269.8 625.8,271.3 625.9,270.4 626.0,270.6 626.1,271.8 626.2,272.4 626.3,272.6 626.4,273.8 626.5,273.7 626.6,276.0 626.7,275.8 626.8,277.2 626.9,277.4 627.0,278.1 627.0,278.7 627.1,278.4 627.2,279.9 627.3,279.5 627.4,280.8 627.5,281.4 627.6,282.4 627.7,281.8 627.8,282.7 627.9,284.3 628.0,284.9 628.1,285.8 628.1,284.7 628.2,285.5 628.3,285.9 628.4,287.7 628.5,288.4 628.6,288.8 628.7,289.7 628.8,288.5 628.8,288.0 628.9,288.1 629.0,286.9 629.1,286.3 629.1,285.6 629.2,284.8 629.3,284.7 629.3,283.7 629.4,282.2 629.5,282.2 629.6,281.6 629.6,281.0 629.7,280.6 629.8,279.6 629.8,279.1 629.9,278.5 630.0,277.8 630.1,278.4 630.1,276.0 630.2,275.2 630.8,276.8 631.4,276.4 631.9,276.7 632.5,277.2 632.6,277.3 632.7,277.7 632.8,277.8 632.9,280.1 633.0,280.8 633.1,280.1 633.2,281.1 633.3,281.4 633.4,281.5 633.5,283.7 633.6,284.2 633.7,283.6 633.8,284.2 633.9,285.7 634.0,286.5 634.1,286.4 634.2,286.9 634.3,287.1 634.4,288.9 634.5,289.6 634.6,290.2 634.7,289.3 634.8,290.8 634.9,292.2 635.0,292.3 635.1,292.3 635.2,292.3 635.3,292.7 635.5,294.7 635.6,293.9 635.8,296.0 636.0,296.3 636.1,296.5 636.3,297.9 636.5,298.6 636.6,298.5 636.8,298.1 637.0,298.5 637.1,297.6 637.3,296.6 637.5,297.4 637.6,296.4 637.8,294.6 638.0,294.2 638.1,293.9 638.3,293.7 638.4,293.9 638.5,294.7 638.6,296.1 638.7,295.4 638.8,297.1 638.9,297.0 639.0,298.8 639.1,299.4 639.2,298.8 639.3,300.0 639.5,299.6 639.6,300.8 639.7,301.9 639.8,302.5 639.9,302.6 640.0,302.6 640.1,303.4 640.2,304.8 640.3,304.7 640.4,305.6 640.5,306.8 640.6,308.0 640.7,306.6 640.9,305.5 641.0,305.5 641.1,304.3 641.2,304.6 641.4,302.8 641.5,302.3 641.6,302.1 641.7,302.4 641.9,300.3 642.0,299.7 642.1,299.0 642.3,298.5 642.4,298.2 642.6,297.7 642.8,297.9 642.9,296.6 643.1,296.1 643.3,295.4 643.4,295.5 643.6,295.2 644.2,294.6 644.8,295.8 645.4,294.8 646.0,296.6 646.6,296.0 647.1,295.8 647.6,294.8 648.1,294.2 648.6,293.5 649.2,294.6 649.7,293.1 650.2,293.3 650.7,292.4 651.2,292.2 651.6,292.0 652.1,292.4 652.5,293.2 653.0,294.3 653.4,294.5 653.7,294.0 653.9,296.0 654.2,296.0 654.4,295.9 654.7,296.9 654.9,297.4 655.2,299.2 655.4,299.2 655.7,299.4 656.3,299.6 656.9,300.0 657.4,300.4 658.0,300.9 658.5,302.2 659.1,302.5 659.7,302.7 660.2,303.5 660.6,303.5 661.0,302.9 661.4,303.3 661.7,304.0 662.1,304.7 662.5,305.8 662.9,305.8 663.3,304.9 663.6,304.1 664.0,303.2 664.4,304.2 664.8,303.2 664.9,303.0 664.9,303.0 665.0,305.5 665.1,304.6 665.2,306.4 665.2,305.6 665.3,307.2 665.4,307.2 665.5,308.9 665.5,308.3 665.6,308.5 665.7,309.3 665.8,311.2 665.8,312.1 665.9,312.0 666.0,312.7 666.0,312.5 666.1,313.1 666.2,313.3 666.3,315.7 666.3,314.5 666.4,316.2 666.5,316.3 666.6,316.6 666.6,317.7 666.7,319.2 666.8,318.5 666.9,318.9 666.9,320.5 667.0,321.1 667.1,320.2 667.1,318.9 667.2,319.7 667.3,317.5 667.4,317.1 667.4,316.6 667.5,316.5 667.6,315.8 667.7,315.3 667.7,315.1 667.8,314.8 667.9,313.3 667.9,311.8 668.0,312.8 668.1,310.6 668.2,310.5 668.2,309.6 668.3,309.9 668.4,309.6 668.5,307.7 668.5,307.4 668.6,307.9 669.1,307.2 669.7,305.7 670.2,306.4 670.8,306.3 671.3,305.1 671.8,304.2 672.3,304.8 672.4,304.8 672.6,305.0 672.7,305.7 672.8,306.8 673.0,306.8 673.1,308.0 673.3,308.9 673.4,309.5 673.5,309.9 673.7,311.3 673.8,310.5 674.1,311.5 674.3,313.3 674.6,313.7 674.9,314.4 675.2,314.6 675.5,314.7 675.7,315.8 676.0,315.9 676.4,315.5 676.8,316.3 677.2,316.4 677.5,318.5 677.9,317.8 678.3,318.5 678.7,319.2 679.1,318.8 679.2,319.4 679.4,319.0 679.5,318.3 679.6,317.9 679.8,316.1 679.9,315.2 680.1,315.8 680.2,315.0 680.3,313.8 680.5,313.1 680.6,312.1 681.1,313.8 681.6,313.5 682.1,314.6 682.6,314.0 683.1,314.4 683.6,315.1 683.8,316.2 684.1,317.1 684.3,316.6 684.5,317.9 684.8,317.9 685.0,319.4 685.2,319.8 685.4,320.0 685.7,320.2 685.9,320.6 686.2,322.4 686.5,322.8 686.8,322.3 687.2,322.4 687.5,323.2 687.8,325.3 688.1,324.0 688.4,326.1 688.6,326.0 688.9,326.6 689.2,327.2 689.5,327.4 689.7,328.3 690.0,327.9 690.3,329.0 690.6,326.9 691.0,326.4 691.3,327.0 691.6,326.4 691.9,326.2 692.0,325.4 692.2,325.3 692.4,322.9 692.5,322.2 692.6,322.1 692.8,322.6 692.9,320.7 693.1,320.9 693.2,320.7 693.4,318.9 693.6,320.2 693.8,321.6 694.0,321.8 694.2,321.7 694.4,322.5 694.6,322.7 694.8,324.6 695.0,324.8 695.2,325.2 695.4,325.1 695.6,326.5 695.8,326.6 696.0,327.8 696.2,326.3 696.4,326.8 696.7,325.8 696.9,324.7 697.1,324.4 697.3,324.3 697.6,323.1 697.8,323.4 698.0,320.9 698.4,322.2 698.7,321.3 699.1,320.3 699.5,320.5 699.8,318.6 700.2,318.5 700.6,318.7 701.0,318.4 701.4,317.0 701.7,317.8 702.1,316.6 702.5,314.9 702.8,314.5 703.1,313.8 703.4,314.3 703.6,313.2 703.9,312.5 704.2,312.3 704.5,311.0 704.8,312.1 705.0,311.4 705.2,310.2 705.4,309.3 705.6,308.4 705.8,308.4 706.0,307.3 706.2,307.9 706.4,307.3 706.6,306.2 706.8,305.8 707.0,303.7 707.2,303.2 707.3,303.0 707.5,302.0 707.6,302.0 707.8,302.5 707.9,301.7 708.1,301.3 708.2,299.3 708.4,298.7 708.5,297.7 708.7,297.6 708.8,296.6 709.0,297.0 709.3,297.1 709.5,298.4 709.8,298.7 710.1,299.4 710.3,299.4 710.5,300.9 710.7,301.4 710.9,302.0 711.1,302.1 711.2,301.5 711.3,300.5 711.4,299.4 711.4,299.6 711.5,299.3 711.6,298.4" stroke="#0e5f94" stroke-width="3.4" fill="none" stroke-linejoin="round" stroke-linecap="round"/>
<text x="170.3" y="31.9" font-size="16.5" font-weight="bold" fill="#000" textLength="30.0" lengthAdjust="spacingAndGlyphs" xml:space="preserve">東証</text>
<text x="201.8" y="32.3" font-size="14.8" font-weight="bold" fill="#000" textLength="39.2" lengthAdjust="spacingAndGlyphs" xml:space="preserve">J-REIT</text>
<text x="250.3" y="31.9" font-size="16.5" font-weight="bold" fill="#000" textLength="75.0" lengthAdjust="spacingAndGlyphs" xml:space="preserve">時価総額の</text>
<text x="325.2" y="32.3" font-size="14.8" font-weight="bold" fill="#000" textLength="28.0" lengthAdjust="spacingAndGlyphs" xml:space="preserve">NAV</text>
<text x="353.7" y="31.9" font-size="16.5" font-weight="bold" fill="#000" stroke="#000" stroke-width="0.3" textLength="242.6" lengthAdjust="spacingAndGlyphs" xml:space="preserve">に対するプレミアム･ディスカウント</text>
<text x="167.9" y="50.6" font-size="12.4" font-weight="bold" fill="#000" textLength="60.6" lengthAdjust="spacingAndGlyphs" xml:space="preserve">TSE-Listed</text>
<text x="237.0" y="50.6" font-size="12.4" font-weight="bold" fill="#000" textLength="44.4" lengthAdjust="spacingAndGlyphs" xml:space="preserve">J-REITs</text>
<text x="284.6" y="50.6" font-size="12.4" font-weight="bold" fill="#000" textLength="40.4" lengthAdjust="spacingAndGlyphs" xml:space="preserve">Market</text>
<text x="329.7" y="50.6" font-size="12.4" font-weight="bold" fill="#000" textLength="86.2" lengthAdjust="spacingAndGlyphs" xml:space="preserve">Capitalization</text>
<text x="423.1" y="50.6" font-size="12.4" font-weight="bold" fill="#000" textLength="117.4" lengthAdjust="spacingAndGlyphs" xml:space="preserve">Premium/Discount</text>
<text x="549.0" y="50.6" font-size="12.4" font-weight="bold" fill="#000" textLength="13.8" lengthAdjust="spacingAndGlyphs" xml:space="preserve">to</text>
<text x="564.3" y="50.6" font-size="12.4" font-weight="bold" fill="#000" textLength="28.8" lengthAdjust="spacingAndGlyphs" xml:space="preserve">NAV</text>
<text x="227.7" y="68.9" font-size="14.2" font-weight="normal" fill="#000" textLength="147.8" lengthAdjust="spacingAndGlyphs" xml:space="preserve">（2002年9月～2025年9月</text>
<text x="380.50" y="68.9" font-size="14.2" fill="#000" text-anchor="middle">/</text>
<text x="388.3" y="68.9" font-size="14.2" font-weight="normal" fill="#000" textLength="57.2" lengthAdjust="spacingAndGlyphs" xml:space="preserve">Sept. 2002</text>
<text x="443.9" y="68.9" font-size="14.2" font-weight="normal" fill="#000" textLength="16.6" lengthAdjust="spacingAndGlyphs" xml:space="preserve">～</text>
<text x="462.0" y="68.9" font-size="14.2" font-weight="normal" fill="#000" textLength="69.2" lengthAdjust="spacingAndGlyphs" xml:space="preserve">Sept. 2025）</text>
<text x="40.4" y="503" font-size="11" font-weight="normal" fill="#404040" textLength="164.8" lengthAdjust="spacingAndGlyphs" xml:space="preserve">（出所）三井住友トラスト基礎研究所</text>
<text x="211.05" y="503" font-size="11" fill="#404040" text-anchor="middle">/</text>
<text x="215.4" y="503" font-size="11" font-weight="normal" fill="#404040" textLength="35.6" lengthAdjust="spacingAndGlyphs" xml:space="preserve">Source:</text>
<text x="256.0" y="503" font-size="11" font-weight="normal" fill="#404040" textLength="51.6" lengthAdjust="spacingAndGlyphs" xml:space="preserve">Sumitomo</text>
<text x="311.6" y="503" font-size="11" font-weight="normal" fill="#404040" textLength="31.0" lengthAdjust="spacingAndGlyphs" xml:space="preserve">Mitsui</text>
<text x="346.0" y="503" font-size="11" font-weight="normal" fill="#404040" textLength="23.2" lengthAdjust="spacingAndGlyphs" xml:space="preserve">Trust</text>
<text x="372.9" y="503" font-size="11" font-weight="normal" fill="#404040" textLength="43.4" lengthAdjust="spacingAndGlyphs" xml:space="preserve">Research</text>
<text x="422.0" y="503" font-size="11" font-weight="normal" fill="#404040" textLength="42.6" lengthAdjust="spacingAndGlyphs" xml:space="preserve">Institute</text>
</svg></body></html>
